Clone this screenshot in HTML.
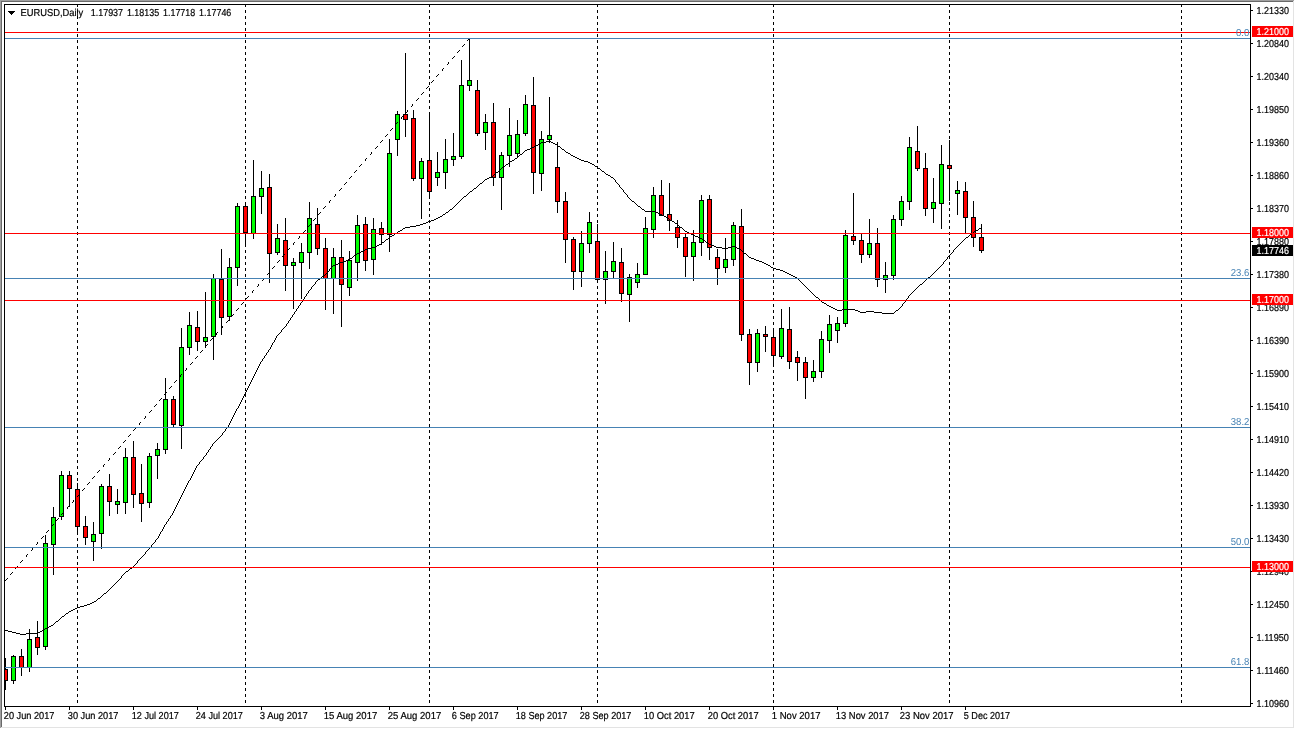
<!DOCTYPE html><html><head><meta charset="utf-8"><title>EURUSD,Daily</title><style>
html,body{margin:0;padding:0;background:#fff;}body{width:1295px;height:729px;overflow:hidden;position:relative;font-family:"Liberation Sans",sans-serif;}
svg{position:absolute;left:0;top:0;display:block}
text{font-family:"Liberation Sans",sans-serif;font-size:10.1px;stroke-width:0.2px;text-rendering:geometricPrecision;}
</style></head><body>
<svg width="1295" height="729" viewBox="0 0 1295 729">
<rect x="0" y="0" width="1295" height="729" fill="#fff"/>
<g shape-rendering="crispEdges">
<rect x="0" y="0" width="1294" height="1" fill="#a0a0a0"/>
<rect x="0" y="0" width="1" height="728" fill="#a0a0a0"/>
<rect x="1" y="1" width="1292" height="1" fill="#696969"/>
<rect x="1" y="1" width="1" height="726" fill="#696969"/>
<rect x="1293" y="1" width="1" height="727" fill="#e3e3e3"/>
<rect x="1" y="727" width="1293" height="1" fill="#e3e3e3"/>
</g>
<g shape-rendering="crispEdges" fill="#000">
<rect x="77" y="4" width="1" height="3"/>
<rect x="77" y="10" width="1" height="3"/>
<rect x="77" y="16" width="1" height="3"/>
<rect x="77" y="22" width="1" height="3"/>
<rect x="77" y="28" width="1" height="3"/>
<rect x="77" y="34" width="1" height="3"/>
<rect x="77" y="40" width="1" height="3"/>
<rect x="77" y="46" width="1" height="3"/>
<rect x="77" y="52" width="1" height="3"/>
<rect x="77" y="58" width="1" height="3"/>
<rect x="77" y="64" width="1" height="3"/>
<rect x="77" y="70" width="1" height="3"/>
<rect x="77" y="76" width="1" height="3"/>
<rect x="77" y="82" width="1" height="3"/>
<rect x="77" y="88" width="1" height="3"/>
<rect x="77" y="94" width="1" height="3"/>
<rect x="77" y="100" width="1" height="3"/>
<rect x="77" y="106" width="1" height="3"/>
<rect x="77" y="112" width="1" height="3"/>
<rect x="77" y="118" width="1" height="3"/>
<rect x="77" y="124" width="1" height="3"/>
<rect x="77" y="130" width="1" height="3"/>
<rect x="77" y="136" width="1" height="3"/>
<rect x="77" y="142" width="1" height="3"/>
<rect x="77" y="148" width="1" height="3"/>
<rect x="77" y="154" width="1" height="3"/>
<rect x="77" y="160" width="1" height="3"/>
<rect x="77" y="166" width="1" height="3"/>
<rect x="77" y="172" width="1" height="3"/>
<rect x="77" y="178" width="1" height="3"/>
<rect x="77" y="184" width="1" height="3"/>
<rect x="77" y="190" width="1" height="3"/>
<rect x="77" y="196" width="1" height="3"/>
<rect x="77" y="202" width="1" height="3"/>
<rect x="77" y="208" width="1" height="3"/>
<rect x="77" y="214" width="1" height="3"/>
<rect x="77" y="220" width="1" height="3"/>
<rect x="77" y="226" width="1" height="3"/>
<rect x="77" y="232" width="1" height="3"/>
<rect x="77" y="238" width="1" height="3"/>
<rect x="77" y="244" width="1" height="3"/>
<rect x="77" y="250" width="1" height="3"/>
<rect x="77" y="256" width="1" height="3"/>
<rect x="77" y="262" width="1" height="3"/>
<rect x="77" y="268" width="1" height="3"/>
<rect x="77" y="274" width="1" height="3"/>
<rect x="77" y="280" width="1" height="3"/>
<rect x="77" y="286" width="1" height="3"/>
<rect x="77" y="292" width="1" height="3"/>
<rect x="77" y="298" width="1" height="3"/>
<rect x="77" y="304" width="1" height="3"/>
<rect x="77" y="310" width="1" height="3"/>
<rect x="77" y="316" width="1" height="3"/>
<rect x="77" y="322" width="1" height="3"/>
<rect x="77" y="328" width="1" height="3"/>
<rect x="77" y="334" width="1" height="3"/>
<rect x="77" y="340" width="1" height="3"/>
<rect x="77" y="346" width="1" height="3"/>
<rect x="77" y="352" width="1" height="3"/>
<rect x="77" y="358" width="1" height="3"/>
<rect x="77" y="364" width="1" height="3"/>
<rect x="77" y="370" width="1" height="3"/>
<rect x="77" y="376" width="1" height="3"/>
<rect x="77" y="382" width="1" height="3"/>
<rect x="77" y="388" width="1" height="3"/>
<rect x="77" y="394" width="1" height="3"/>
<rect x="77" y="400" width="1" height="3"/>
<rect x="77" y="406" width="1" height="3"/>
<rect x="77" y="412" width="1" height="3"/>
<rect x="77" y="418" width="1" height="3"/>
<rect x="77" y="424" width="1" height="3"/>
<rect x="77" y="430" width="1" height="3"/>
<rect x="77" y="436" width="1" height="3"/>
<rect x="77" y="442" width="1" height="3"/>
<rect x="77" y="448" width="1" height="3"/>
<rect x="77" y="454" width="1" height="3"/>
<rect x="77" y="460" width="1" height="3"/>
<rect x="77" y="466" width="1" height="3"/>
<rect x="77" y="472" width="1" height="3"/>
<rect x="77" y="478" width="1" height="3"/>
<rect x="77" y="484" width="1" height="3"/>
<rect x="77" y="490" width="1" height="3"/>
<rect x="77" y="496" width="1" height="3"/>
<rect x="77" y="502" width="1" height="3"/>
<rect x="77" y="508" width="1" height="3"/>
<rect x="77" y="514" width="1" height="3"/>
<rect x="77" y="520" width="1" height="3"/>
<rect x="77" y="526" width="1" height="3"/>
<rect x="77" y="532" width="1" height="3"/>
<rect x="77" y="538" width="1" height="3"/>
<rect x="77" y="544" width="1" height="3"/>
<rect x="77" y="550" width="1" height="3"/>
<rect x="77" y="556" width="1" height="3"/>
<rect x="77" y="562" width="1" height="3"/>
<rect x="77" y="568" width="1" height="3"/>
<rect x="77" y="574" width="1" height="3"/>
<rect x="77" y="580" width="1" height="3"/>
<rect x="77" y="586" width="1" height="3"/>
<rect x="77" y="592" width="1" height="3"/>
<rect x="77" y="598" width="1" height="3"/>
<rect x="77" y="604" width="1" height="3"/>
<rect x="77" y="610" width="1" height="3"/>
<rect x="77" y="616" width="1" height="3"/>
<rect x="77" y="622" width="1" height="3"/>
<rect x="77" y="628" width="1" height="3"/>
<rect x="77" y="634" width="1" height="3"/>
<rect x="77" y="640" width="1" height="3"/>
<rect x="77" y="646" width="1" height="3"/>
<rect x="77" y="652" width="1" height="3"/>
<rect x="77" y="658" width="1" height="3"/>
<rect x="77" y="664" width="1" height="3"/>
<rect x="77" y="670" width="1" height="3"/>
<rect x="77" y="676" width="1" height="3"/>
<rect x="77" y="682" width="1" height="3"/>
<rect x="77" y="688" width="1" height="3"/>
<rect x="77" y="694" width="1" height="3"/>
<rect x="77" y="700" width="1" height="3"/>
<rect x="245" y="4" width="1" height="3"/>
<rect x="245" y="10" width="1" height="3"/>
<rect x="245" y="16" width="1" height="3"/>
<rect x="245" y="22" width="1" height="3"/>
<rect x="245" y="28" width="1" height="3"/>
<rect x="245" y="34" width="1" height="3"/>
<rect x="245" y="40" width="1" height="3"/>
<rect x="245" y="46" width="1" height="3"/>
<rect x="245" y="52" width="1" height="3"/>
<rect x="245" y="58" width="1" height="3"/>
<rect x="245" y="64" width="1" height="3"/>
<rect x="245" y="70" width="1" height="3"/>
<rect x="245" y="76" width="1" height="3"/>
<rect x="245" y="82" width="1" height="3"/>
<rect x="245" y="88" width="1" height="3"/>
<rect x="245" y="94" width="1" height="3"/>
<rect x="245" y="100" width="1" height="3"/>
<rect x="245" y="106" width="1" height="3"/>
<rect x="245" y="112" width="1" height="3"/>
<rect x="245" y="118" width="1" height="3"/>
<rect x="245" y="124" width="1" height="3"/>
<rect x="245" y="130" width="1" height="3"/>
<rect x="245" y="136" width="1" height="3"/>
<rect x="245" y="142" width="1" height="3"/>
<rect x="245" y="148" width="1" height="3"/>
<rect x="245" y="154" width="1" height="3"/>
<rect x="245" y="160" width="1" height="3"/>
<rect x="245" y="166" width="1" height="3"/>
<rect x="245" y="172" width="1" height="3"/>
<rect x="245" y="178" width="1" height="3"/>
<rect x="245" y="184" width="1" height="3"/>
<rect x="245" y="190" width="1" height="3"/>
<rect x="245" y="196" width="1" height="3"/>
<rect x="245" y="202" width="1" height="3"/>
<rect x="245" y="208" width="1" height="3"/>
<rect x="245" y="214" width="1" height="3"/>
<rect x="245" y="220" width="1" height="3"/>
<rect x="245" y="226" width="1" height="3"/>
<rect x="245" y="232" width="1" height="3"/>
<rect x="245" y="238" width="1" height="3"/>
<rect x="245" y="244" width="1" height="3"/>
<rect x="245" y="250" width="1" height="3"/>
<rect x="245" y="256" width="1" height="3"/>
<rect x="245" y="262" width="1" height="3"/>
<rect x="245" y="268" width="1" height="3"/>
<rect x="245" y="274" width="1" height="3"/>
<rect x="245" y="280" width="1" height="3"/>
<rect x="245" y="286" width="1" height="3"/>
<rect x="245" y="292" width="1" height="3"/>
<rect x="245" y="298" width="1" height="3"/>
<rect x="245" y="304" width="1" height="3"/>
<rect x="245" y="310" width="1" height="3"/>
<rect x="245" y="316" width="1" height="3"/>
<rect x="245" y="322" width="1" height="3"/>
<rect x="245" y="328" width="1" height="3"/>
<rect x="245" y="334" width="1" height="3"/>
<rect x="245" y="340" width="1" height="3"/>
<rect x="245" y="346" width="1" height="3"/>
<rect x="245" y="352" width="1" height="3"/>
<rect x="245" y="358" width="1" height="3"/>
<rect x="245" y="364" width="1" height="3"/>
<rect x="245" y="370" width="1" height="3"/>
<rect x="245" y="376" width="1" height="3"/>
<rect x="245" y="382" width="1" height="3"/>
<rect x="245" y="388" width="1" height="3"/>
<rect x="245" y="394" width="1" height="3"/>
<rect x="245" y="400" width="1" height="3"/>
<rect x="245" y="406" width="1" height="3"/>
<rect x="245" y="412" width="1" height="3"/>
<rect x="245" y="418" width="1" height="3"/>
<rect x="245" y="424" width="1" height="3"/>
<rect x="245" y="430" width="1" height="3"/>
<rect x="245" y="436" width="1" height="3"/>
<rect x="245" y="442" width="1" height="3"/>
<rect x="245" y="448" width="1" height="3"/>
<rect x="245" y="454" width="1" height="3"/>
<rect x="245" y="460" width="1" height="3"/>
<rect x="245" y="466" width="1" height="3"/>
<rect x="245" y="472" width="1" height="3"/>
<rect x="245" y="478" width="1" height="3"/>
<rect x="245" y="484" width="1" height="3"/>
<rect x="245" y="490" width="1" height="3"/>
<rect x="245" y="496" width="1" height="3"/>
<rect x="245" y="502" width="1" height="3"/>
<rect x="245" y="508" width="1" height="3"/>
<rect x="245" y="514" width="1" height="3"/>
<rect x="245" y="520" width="1" height="3"/>
<rect x="245" y="526" width="1" height="3"/>
<rect x="245" y="532" width="1" height="3"/>
<rect x="245" y="538" width="1" height="3"/>
<rect x="245" y="544" width="1" height="3"/>
<rect x="245" y="550" width="1" height="3"/>
<rect x="245" y="556" width="1" height="3"/>
<rect x="245" y="562" width="1" height="3"/>
<rect x="245" y="568" width="1" height="3"/>
<rect x="245" y="574" width="1" height="3"/>
<rect x="245" y="580" width="1" height="3"/>
<rect x="245" y="586" width="1" height="3"/>
<rect x="245" y="592" width="1" height="3"/>
<rect x="245" y="598" width="1" height="3"/>
<rect x="245" y="604" width="1" height="3"/>
<rect x="245" y="610" width="1" height="3"/>
<rect x="245" y="616" width="1" height="3"/>
<rect x="245" y="622" width="1" height="3"/>
<rect x="245" y="628" width="1" height="3"/>
<rect x="245" y="634" width="1" height="3"/>
<rect x="245" y="640" width="1" height="3"/>
<rect x="245" y="646" width="1" height="3"/>
<rect x="245" y="652" width="1" height="3"/>
<rect x="245" y="658" width="1" height="3"/>
<rect x="245" y="664" width="1" height="3"/>
<rect x="245" y="670" width="1" height="3"/>
<rect x="245" y="676" width="1" height="3"/>
<rect x="245" y="682" width="1" height="3"/>
<rect x="245" y="688" width="1" height="3"/>
<rect x="245" y="694" width="1" height="3"/>
<rect x="245" y="700" width="1" height="3"/>
<rect x="429" y="4" width="1" height="3"/>
<rect x="429" y="10" width="1" height="3"/>
<rect x="429" y="16" width="1" height="3"/>
<rect x="429" y="22" width="1" height="3"/>
<rect x="429" y="28" width="1" height="3"/>
<rect x="429" y="34" width="1" height="3"/>
<rect x="429" y="40" width="1" height="3"/>
<rect x="429" y="46" width="1" height="3"/>
<rect x="429" y="52" width="1" height="3"/>
<rect x="429" y="58" width="1" height="3"/>
<rect x="429" y="64" width="1" height="3"/>
<rect x="429" y="70" width="1" height="3"/>
<rect x="429" y="76" width="1" height="3"/>
<rect x="429" y="82" width="1" height="3"/>
<rect x="429" y="88" width="1" height="3"/>
<rect x="429" y="94" width="1" height="3"/>
<rect x="429" y="100" width="1" height="3"/>
<rect x="429" y="106" width="1" height="3"/>
<rect x="429" y="112" width="1" height="3"/>
<rect x="429" y="118" width="1" height="3"/>
<rect x="429" y="124" width="1" height="3"/>
<rect x="429" y="130" width="1" height="3"/>
<rect x="429" y="136" width="1" height="3"/>
<rect x="429" y="142" width="1" height="3"/>
<rect x="429" y="148" width="1" height="3"/>
<rect x="429" y="154" width="1" height="3"/>
<rect x="429" y="160" width="1" height="3"/>
<rect x="429" y="166" width="1" height="3"/>
<rect x="429" y="172" width="1" height="3"/>
<rect x="429" y="178" width="1" height="3"/>
<rect x="429" y="184" width="1" height="3"/>
<rect x="429" y="190" width="1" height="3"/>
<rect x="429" y="196" width="1" height="3"/>
<rect x="429" y="202" width="1" height="3"/>
<rect x="429" y="208" width="1" height="3"/>
<rect x="429" y="214" width="1" height="3"/>
<rect x="429" y="220" width="1" height="3"/>
<rect x="429" y="226" width="1" height="3"/>
<rect x="429" y="232" width="1" height="3"/>
<rect x="429" y="238" width="1" height="3"/>
<rect x="429" y="244" width="1" height="3"/>
<rect x="429" y="250" width="1" height="3"/>
<rect x="429" y="256" width="1" height="3"/>
<rect x="429" y="262" width="1" height="3"/>
<rect x="429" y="268" width="1" height="3"/>
<rect x="429" y="274" width="1" height="3"/>
<rect x="429" y="280" width="1" height="3"/>
<rect x="429" y="286" width="1" height="3"/>
<rect x="429" y="292" width="1" height="3"/>
<rect x="429" y="298" width="1" height="3"/>
<rect x="429" y="304" width="1" height="3"/>
<rect x="429" y="310" width="1" height="3"/>
<rect x="429" y="316" width="1" height="3"/>
<rect x="429" y="322" width="1" height="3"/>
<rect x="429" y="328" width="1" height="3"/>
<rect x="429" y="334" width="1" height="3"/>
<rect x="429" y="340" width="1" height="3"/>
<rect x="429" y="346" width="1" height="3"/>
<rect x="429" y="352" width="1" height="3"/>
<rect x="429" y="358" width="1" height="3"/>
<rect x="429" y="364" width="1" height="3"/>
<rect x="429" y="370" width="1" height="3"/>
<rect x="429" y="376" width="1" height="3"/>
<rect x="429" y="382" width="1" height="3"/>
<rect x="429" y="388" width="1" height="3"/>
<rect x="429" y="394" width="1" height="3"/>
<rect x="429" y="400" width="1" height="3"/>
<rect x="429" y="406" width="1" height="3"/>
<rect x="429" y="412" width="1" height="3"/>
<rect x="429" y="418" width="1" height="3"/>
<rect x="429" y="424" width="1" height="3"/>
<rect x="429" y="430" width="1" height="3"/>
<rect x="429" y="436" width="1" height="3"/>
<rect x="429" y="442" width="1" height="3"/>
<rect x="429" y="448" width="1" height="3"/>
<rect x="429" y="454" width="1" height="3"/>
<rect x="429" y="460" width="1" height="3"/>
<rect x="429" y="466" width="1" height="3"/>
<rect x="429" y="472" width="1" height="3"/>
<rect x="429" y="478" width="1" height="3"/>
<rect x="429" y="484" width="1" height="3"/>
<rect x="429" y="490" width="1" height="3"/>
<rect x="429" y="496" width="1" height="3"/>
<rect x="429" y="502" width="1" height="3"/>
<rect x="429" y="508" width="1" height="3"/>
<rect x="429" y="514" width="1" height="3"/>
<rect x="429" y="520" width="1" height="3"/>
<rect x="429" y="526" width="1" height="3"/>
<rect x="429" y="532" width="1" height="3"/>
<rect x="429" y="538" width="1" height="3"/>
<rect x="429" y="544" width="1" height="3"/>
<rect x="429" y="550" width="1" height="3"/>
<rect x="429" y="556" width="1" height="3"/>
<rect x="429" y="562" width="1" height="3"/>
<rect x="429" y="568" width="1" height="3"/>
<rect x="429" y="574" width="1" height="3"/>
<rect x="429" y="580" width="1" height="3"/>
<rect x="429" y="586" width="1" height="3"/>
<rect x="429" y="592" width="1" height="3"/>
<rect x="429" y="598" width="1" height="3"/>
<rect x="429" y="604" width="1" height="3"/>
<rect x="429" y="610" width="1" height="3"/>
<rect x="429" y="616" width="1" height="3"/>
<rect x="429" y="622" width="1" height="3"/>
<rect x="429" y="628" width="1" height="3"/>
<rect x="429" y="634" width="1" height="3"/>
<rect x="429" y="640" width="1" height="3"/>
<rect x="429" y="646" width="1" height="3"/>
<rect x="429" y="652" width="1" height="3"/>
<rect x="429" y="658" width="1" height="3"/>
<rect x="429" y="664" width="1" height="3"/>
<rect x="429" y="670" width="1" height="3"/>
<rect x="429" y="676" width="1" height="3"/>
<rect x="429" y="682" width="1" height="3"/>
<rect x="429" y="688" width="1" height="3"/>
<rect x="429" y="694" width="1" height="3"/>
<rect x="429" y="700" width="1" height="3"/>
<rect x="597" y="4" width="1" height="3"/>
<rect x="597" y="10" width="1" height="3"/>
<rect x="597" y="16" width="1" height="3"/>
<rect x="597" y="22" width="1" height="3"/>
<rect x="597" y="28" width="1" height="3"/>
<rect x="597" y="34" width="1" height="3"/>
<rect x="597" y="40" width="1" height="3"/>
<rect x="597" y="46" width="1" height="3"/>
<rect x="597" y="52" width="1" height="3"/>
<rect x="597" y="58" width="1" height="3"/>
<rect x="597" y="64" width="1" height="3"/>
<rect x="597" y="70" width="1" height="3"/>
<rect x="597" y="76" width="1" height="3"/>
<rect x="597" y="82" width="1" height="3"/>
<rect x="597" y="88" width="1" height="3"/>
<rect x="597" y="94" width="1" height="3"/>
<rect x="597" y="100" width="1" height="3"/>
<rect x="597" y="106" width="1" height="3"/>
<rect x="597" y="112" width="1" height="3"/>
<rect x="597" y="118" width="1" height="3"/>
<rect x="597" y="124" width="1" height="3"/>
<rect x="597" y="130" width="1" height="3"/>
<rect x="597" y="136" width="1" height="3"/>
<rect x="597" y="142" width="1" height="3"/>
<rect x="597" y="148" width="1" height="3"/>
<rect x="597" y="154" width="1" height="3"/>
<rect x="597" y="160" width="1" height="3"/>
<rect x="597" y="166" width="1" height="3"/>
<rect x="597" y="172" width="1" height="3"/>
<rect x="597" y="178" width="1" height="3"/>
<rect x="597" y="184" width="1" height="3"/>
<rect x="597" y="190" width="1" height="3"/>
<rect x="597" y="196" width="1" height="3"/>
<rect x="597" y="202" width="1" height="3"/>
<rect x="597" y="208" width="1" height="3"/>
<rect x="597" y="214" width="1" height="3"/>
<rect x="597" y="220" width="1" height="3"/>
<rect x="597" y="226" width="1" height="3"/>
<rect x="597" y="232" width="1" height="3"/>
<rect x="597" y="238" width="1" height="3"/>
<rect x="597" y="244" width="1" height="3"/>
<rect x="597" y="250" width="1" height="3"/>
<rect x="597" y="256" width="1" height="3"/>
<rect x="597" y="262" width="1" height="3"/>
<rect x="597" y="268" width="1" height="3"/>
<rect x="597" y="274" width="1" height="3"/>
<rect x="597" y="280" width="1" height="3"/>
<rect x="597" y="286" width="1" height="3"/>
<rect x="597" y="292" width="1" height="3"/>
<rect x="597" y="298" width="1" height="3"/>
<rect x="597" y="304" width="1" height="3"/>
<rect x="597" y="310" width="1" height="3"/>
<rect x="597" y="316" width="1" height="3"/>
<rect x="597" y="322" width="1" height="3"/>
<rect x="597" y="328" width="1" height="3"/>
<rect x="597" y="334" width="1" height="3"/>
<rect x="597" y="340" width="1" height="3"/>
<rect x="597" y="346" width="1" height="3"/>
<rect x="597" y="352" width="1" height="3"/>
<rect x="597" y="358" width="1" height="3"/>
<rect x="597" y="364" width="1" height="3"/>
<rect x="597" y="370" width="1" height="3"/>
<rect x="597" y="376" width="1" height="3"/>
<rect x="597" y="382" width="1" height="3"/>
<rect x="597" y="388" width="1" height="3"/>
<rect x="597" y="394" width="1" height="3"/>
<rect x="597" y="400" width="1" height="3"/>
<rect x="597" y="406" width="1" height="3"/>
<rect x="597" y="412" width="1" height="3"/>
<rect x="597" y="418" width="1" height="3"/>
<rect x="597" y="424" width="1" height="3"/>
<rect x="597" y="430" width="1" height="3"/>
<rect x="597" y="436" width="1" height="3"/>
<rect x="597" y="442" width="1" height="3"/>
<rect x="597" y="448" width="1" height="3"/>
<rect x="597" y="454" width="1" height="3"/>
<rect x="597" y="460" width="1" height="3"/>
<rect x="597" y="466" width="1" height="3"/>
<rect x="597" y="472" width="1" height="3"/>
<rect x="597" y="478" width="1" height="3"/>
<rect x="597" y="484" width="1" height="3"/>
<rect x="597" y="490" width="1" height="3"/>
<rect x="597" y="496" width="1" height="3"/>
<rect x="597" y="502" width="1" height="3"/>
<rect x="597" y="508" width="1" height="3"/>
<rect x="597" y="514" width="1" height="3"/>
<rect x="597" y="520" width="1" height="3"/>
<rect x="597" y="526" width="1" height="3"/>
<rect x="597" y="532" width="1" height="3"/>
<rect x="597" y="538" width="1" height="3"/>
<rect x="597" y="544" width="1" height="3"/>
<rect x="597" y="550" width="1" height="3"/>
<rect x="597" y="556" width="1" height="3"/>
<rect x="597" y="562" width="1" height="3"/>
<rect x="597" y="568" width="1" height="3"/>
<rect x="597" y="574" width="1" height="3"/>
<rect x="597" y="580" width="1" height="3"/>
<rect x="597" y="586" width="1" height="3"/>
<rect x="597" y="592" width="1" height="3"/>
<rect x="597" y="598" width="1" height="3"/>
<rect x="597" y="604" width="1" height="3"/>
<rect x="597" y="610" width="1" height="3"/>
<rect x="597" y="616" width="1" height="3"/>
<rect x="597" y="622" width="1" height="3"/>
<rect x="597" y="628" width="1" height="3"/>
<rect x="597" y="634" width="1" height="3"/>
<rect x="597" y="640" width="1" height="3"/>
<rect x="597" y="646" width="1" height="3"/>
<rect x="597" y="652" width="1" height="3"/>
<rect x="597" y="658" width="1" height="3"/>
<rect x="597" y="664" width="1" height="3"/>
<rect x="597" y="670" width="1" height="3"/>
<rect x="597" y="676" width="1" height="3"/>
<rect x="597" y="682" width="1" height="3"/>
<rect x="597" y="688" width="1" height="3"/>
<rect x="597" y="694" width="1" height="3"/>
<rect x="597" y="700" width="1" height="3"/>
<rect x="773" y="4" width="1" height="3"/>
<rect x="773" y="10" width="1" height="3"/>
<rect x="773" y="16" width="1" height="3"/>
<rect x="773" y="22" width="1" height="3"/>
<rect x="773" y="28" width="1" height="3"/>
<rect x="773" y="34" width="1" height="3"/>
<rect x="773" y="40" width="1" height="3"/>
<rect x="773" y="46" width="1" height="3"/>
<rect x="773" y="52" width="1" height="3"/>
<rect x="773" y="58" width="1" height="3"/>
<rect x="773" y="64" width="1" height="3"/>
<rect x="773" y="70" width="1" height="3"/>
<rect x="773" y="76" width="1" height="3"/>
<rect x="773" y="82" width="1" height="3"/>
<rect x="773" y="88" width="1" height="3"/>
<rect x="773" y="94" width="1" height="3"/>
<rect x="773" y="100" width="1" height="3"/>
<rect x="773" y="106" width="1" height="3"/>
<rect x="773" y="112" width="1" height="3"/>
<rect x="773" y="118" width="1" height="3"/>
<rect x="773" y="124" width="1" height="3"/>
<rect x="773" y="130" width="1" height="3"/>
<rect x="773" y="136" width="1" height="3"/>
<rect x="773" y="142" width="1" height="3"/>
<rect x="773" y="148" width="1" height="3"/>
<rect x="773" y="154" width="1" height="3"/>
<rect x="773" y="160" width="1" height="3"/>
<rect x="773" y="166" width="1" height="3"/>
<rect x="773" y="172" width="1" height="3"/>
<rect x="773" y="178" width="1" height="3"/>
<rect x="773" y="184" width="1" height="3"/>
<rect x="773" y="190" width="1" height="3"/>
<rect x="773" y="196" width="1" height="3"/>
<rect x="773" y="202" width="1" height="3"/>
<rect x="773" y="208" width="1" height="3"/>
<rect x="773" y="214" width="1" height="3"/>
<rect x="773" y="220" width="1" height="3"/>
<rect x="773" y="226" width="1" height="3"/>
<rect x="773" y="232" width="1" height="3"/>
<rect x="773" y="238" width="1" height="3"/>
<rect x="773" y="244" width="1" height="3"/>
<rect x="773" y="250" width="1" height="3"/>
<rect x="773" y="256" width="1" height="3"/>
<rect x="773" y="262" width="1" height="3"/>
<rect x="773" y="268" width="1" height="3"/>
<rect x="773" y="274" width="1" height="3"/>
<rect x="773" y="280" width="1" height="3"/>
<rect x="773" y="286" width="1" height="3"/>
<rect x="773" y="292" width="1" height="3"/>
<rect x="773" y="298" width="1" height="3"/>
<rect x="773" y="304" width="1" height="3"/>
<rect x="773" y="310" width="1" height="3"/>
<rect x="773" y="316" width="1" height="3"/>
<rect x="773" y="322" width="1" height="3"/>
<rect x="773" y="328" width="1" height="3"/>
<rect x="773" y="334" width="1" height="3"/>
<rect x="773" y="340" width="1" height="3"/>
<rect x="773" y="346" width="1" height="3"/>
<rect x="773" y="352" width="1" height="3"/>
<rect x="773" y="358" width="1" height="3"/>
<rect x="773" y="364" width="1" height="3"/>
<rect x="773" y="370" width="1" height="3"/>
<rect x="773" y="376" width="1" height="3"/>
<rect x="773" y="382" width="1" height="3"/>
<rect x="773" y="388" width="1" height="3"/>
<rect x="773" y="394" width="1" height="3"/>
<rect x="773" y="400" width="1" height="3"/>
<rect x="773" y="406" width="1" height="3"/>
<rect x="773" y="412" width="1" height="3"/>
<rect x="773" y="418" width="1" height="3"/>
<rect x="773" y="424" width="1" height="3"/>
<rect x="773" y="430" width="1" height="3"/>
<rect x="773" y="436" width="1" height="3"/>
<rect x="773" y="442" width="1" height="3"/>
<rect x="773" y="448" width="1" height="3"/>
<rect x="773" y="454" width="1" height="3"/>
<rect x="773" y="460" width="1" height="3"/>
<rect x="773" y="466" width="1" height="3"/>
<rect x="773" y="472" width="1" height="3"/>
<rect x="773" y="478" width="1" height="3"/>
<rect x="773" y="484" width="1" height="3"/>
<rect x="773" y="490" width="1" height="3"/>
<rect x="773" y="496" width="1" height="3"/>
<rect x="773" y="502" width="1" height="3"/>
<rect x="773" y="508" width="1" height="3"/>
<rect x="773" y="514" width="1" height="3"/>
<rect x="773" y="520" width="1" height="3"/>
<rect x="773" y="526" width="1" height="3"/>
<rect x="773" y="532" width="1" height="3"/>
<rect x="773" y="538" width="1" height="3"/>
<rect x="773" y="544" width="1" height="3"/>
<rect x="773" y="550" width="1" height="3"/>
<rect x="773" y="556" width="1" height="3"/>
<rect x="773" y="562" width="1" height="3"/>
<rect x="773" y="568" width="1" height="3"/>
<rect x="773" y="574" width="1" height="3"/>
<rect x="773" y="580" width="1" height="3"/>
<rect x="773" y="586" width="1" height="3"/>
<rect x="773" y="592" width="1" height="3"/>
<rect x="773" y="598" width="1" height="3"/>
<rect x="773" y="604" width="1" height="3"/>
<rect x="773" y="610" width="1" height="3"/>
<rect x="773" y="616" width="1" height="3"/>
<rect x="773" y="622" width="1" height="3"/>
<rect x="773" y="628" width="1" height="3"/>
<rect x="773" y="634" width="1" height="3"/>
<rect x="773" y="640" width="1" height="3"/>
<rect x="773" y="646" width="1" height="3"/>
<rect x="773" y="652" width="1" height="3"/>
<rect x="773" y="658" width="1" height="3"/>
<rect x="773" y="664" width="1" height="3"/>
<rect x="773" y="670" width="1" height="3"/>
<rect x="773" y="676" width="1" height="3"/>
<rect x="773" y="682" width="1" height="3"/>
<rect x="773" y="688" width="1" height="3"/>
<rect x="773" y="694" width="1" height="3"/>
<rect x="773" y="700" width="1" height="3"/>
<rect x="949" y="4" width="1" height="3"/>
<rect x="949" y="10" width="1" height="3"/>
<rect x="949" y="16" width="1" height="3"/>
<rect x="949" y="22" width="1" height="3"/>
<rect x="949" y="28" width="1" height="3"/>
<rect x="949" y="34" width="1" height="3"/>
<rect x="949" y="40" width="1" height="3"/>
<rect x="949" y="46" width="1" height="3"/>
<rect x="949" y="52" width="1" height="3"/>
<rect x="949" y="58" width="1" height="3"/>
<rect x="949" y="64" width="1" height="3"/>
<rect x="949" y="70" width="1" height="3"/>
<rect x="949" y="76" width="1" height="3"/>
<rect x="949" y="82" width="1" height="3"/>
<rect x="949" y="88" width="1" height="3"/>
<rect x="949" y="94" width="1" height="3"/>
<rect x="949" y="100" width="1" height="3"/>
<rect x="949" y="106" width="1" height="3"/>
<rect x="949" y="112" width="1" height="3"/>
<rect x="949" y="118" width="1" height="3"/>
<rect x="949" y="124" width="1" height="3"/>
<rect x="949" y="130" width="1" height="3"/>
<rect x="949" y="136" width="1" height="3"/>
<rect x="949" y="142" width="1" height="3"/>
<rect x="949" y="148" width="1" height="3"/>
<rect x="949" y="154" width="1" height="3"/>
<rect x="949" y="160" width="1" height="3"/>
<rect x="949" y="166" width="1" height="3"/>
<rect x="949" y="172" width="1" height="3"/>
<rect x="949" y="178" width="1" height="3"/>
<rect x="949" y="184" width="1" height="3"/>
<rect x="949" y="190" width="1" height="3"/>
<rect x="949" y="196" width="1" height="3"/>
<rect x="949" y="202" width="1" height="3"/>
<rect x="949" y="208" width="1" height="3"/>
<rect x="949" y="214" width="1" height="3"/>
<rect x="949" y="220" width="1" height="3"/>
<rect x="949" y="226" width="1" height="3"/>
<rect x="949" y="232" width="1" height="3"/>
<rect x="949" y="238" width="1" height="3"/>
<rect x="949" y="244" width="1" height="3"/>
<rect x="949" y="250" width="1" height="3"/>
<rect x="949" y="256" width="1" height="3"/>
<rect x="949" y="262" width="1" height="3"/>
<rect x="949" y="268" width="1" height="3"/>
<rect x="949" y="274" width="1" height="3"/>
<rect x="949" y="280" width="1" height="3"/>
<rect x="949" y="286" width="1" height="3"/>
<rect x="949" y="292" width="1" height="3"/>
<rect x="949" y="298" width="1" height="3"/>
<rect x="949" y="304" width="1" height="3"/>
<rect x="949" y="310" width="1" height="3"/>
<rect x="949" y="316" width="1" height="3"/>
<rect x="949" y="322" width="1" height="3"/>
<rect x="949" y="328" width="1" height="3"/>
<rect x="949" y="334" width="1" height="3"/>
<rect x="949" y="340" width="1" height="3"/>
<rect x="949" y="346" width="1" height="3"/>
<rect x="949" y="352" width="1" height="3"/>
<rect x="949" y="358" width="1" height="3"/>
<rect x="949" y="364" width="1" height="3"/>
<rect x="949" y="370" width="1" height="3"/>
<rect x="949" y="376" width="1" height="3"/>
<rect x="949" y="382" width="1" height="3"/>
<rect x="949" y="388" width="1" height="3"/>
<rect x="949" y="394" width="1" height="3"/>
<rect x="949" y="400" width="1" height="3"/>
<rect x="949" y="406" width="1" height="3"/>
<rect x="949" y="412" width="1" height="3"/>
<rect x="949" y="418" width="1" height="3"/>
<rect x="949" y="424" width="1" height="3"/>
<rect x="949" y="430" width="1" height="3"/>
<rect x="949" y="436" width="1" height="3"/>
<rect x="949" y="442" width="1" height="3"/>
<rect x="949" y="448" width="1" height="3"/>
<rect x="949" y="454" width="1" height="3"/>
<rect x="949" y="460" width="1" height="3"/>
<rect x="949" y="466" width="1" height="3"/>
<rect x="949" y="472" width="1" height="3"/>
<rect x="949" y="478" width="1" height="3"/>
<rect x="949" y="484" width="1" height="3"/>
<rect x="949" y="490" width="1" height="3"/>
<rect x="949" y="496" width="1" height="3"/>
<rect x="949" y="502" width="1" height="3"/>
<rect x="949" y="508" width="1" height="3"/>
<rect x="949" y="514" width="1" height="3"/>
<rect x="949" y="520" width="1" height="3"/>
<rect x="949" y="526" width="1" height="3"/>
<rect x="949" y="532" width="1" height="3"/>
<rect x="949" y="538" width="1" height="3"/>
<rect x="949" y="544" width="1" height="3"/>
<rect x="949" y="550" width="1" height="3"/>
<rect x="949" y="556" width="1" height="3"/>
<rect x="949" y="562" width="1" height="3"/>
<rect x="949" y="568" width="1" height="3"/>
<rect x="949" y="574" width="1" height="3"/>
<rect x="949" y="580" width="1" height="3"/>
<rect x="949" y="586" width="1" height="3"/>
<rect x="949" y="592" width="1" height="3"/>
<rect x="949" y="598" width="1" height="3"/>
<rect x="949" y="604" width="1" height="3"/>
<rect x="949" y="610" width="1" height="3"/>
<rect x="949" y="616" width="1" height="3"/>
<rect x="949" y="622" width="1" height="3"/>
<rect x="949" y="628" width="1" height="3"/>
<rect x="949" y="634" width="1" height="3"/>
<rect x="949" y="640" width="1" height="3"/>
<rect x="949" y="646" width="1" height="3"/>
<rect x="949" y="652" width="1" height="3"/>
<rect x="949" y="658" width="1" height="3"/>
<rect x="949" y="664" width="1" height="3"/>
<rect x="949" y="670" width="1" height="3"/>
<rect x="949" y="676" width="1" height="3"/>
<rect x="949" y="682" width="1" height="3"/>
<rect x="949" y="688" width="1" height="3"/>
<rect x="949" y="694" width="1" height="3"/>
<rect x="949" y="700" width="1" height="3"/>
<rect x="1181" y="4" width="1" height="3"/>
<rect x="1181" y="10" width="1" height="3"/>
<rect x="1181" y="16" width="1" height="3"/>
<rect x="1181" y="22" width="1" height="3"/>
<rect x="1181" y="28" width="1" height="3"/>
<rect x="1181" y="34" width="1" height="3"/>
<rect x="1181" y="40" width="1" height="3"/>
<rect x="1181" y="46" width="1" height="3"/>
<rect x="1181" y="52" width="1" height="3"/>
<rect x="1181" y="58" width="1" height="3"/>
<rect x="1181" y="64" width="1" height="3"/>
<rect x="1181" y="70" width="1" height="3"/>
<rect x="1181" y="76" width="1" height="3"/>
<rect x="1181" y="82" width="1" height="3"/>
<rect x="1181" y="88" width="1" height="3"/>
<rect x="1181" y="94" width="1" height="3"/>
<rect x="1181" y="100" width="1" height="3"/>
<rect x="1181" y="106" width="1" height="3"/>
<rect x="1181" y="112" width="1" height="3"/>
<rect x="1181" y="118" width="1" height="3"/>
<rect x="1181" y="124" width="1" height="3"/>
<rect x="1181" y="130" width="1" height="3"/>
<rect x="1181" y="136" width="1" height="3"/>
<rect x="1181" y="142" width="1" height="3"/>
<rect x="1181" y="148" width="1" height="3"/>
<rect x="1181" y="154" width="1" height="3"/>
<rect x="1181" y="160" width="1" height="3"/>
<rect x="1181" y="166" width="1" height="3"/>
<rect x="1181" y="172" width="1" height="3"/>
<rect x="1181" y="178" width="1" height="3"/>
<rect x="1181" y="184" width="1" height="3"/>
<rect x="1181" y="190" width="1" height="3"/>
<rect x="1181" y="196" width="1" height="3"/>
<rect x="1181" y="202" width="1" height="3"/>
<rect x="1181" y="208" width="1" height="3"/>
<rect x="1181" y="214" width="1" height="3"/>
<rect x="1181" y="220" width="1" height="3"/>
<rect x="1181" y="226" width="1" height="3"/>
<rect x="1181" y="232" width="1" height="3"/>
<rect x="1181" y="238" width="1" height="3"/>
<rect x="1181" y="244" width="1" height="3"/>
<rect x="1181" y="250" width="1" height="3"/>
<rect x="1181" y="256" width="1" height="3"/>
<rect x="1181" y="262" width="1" height="3"/>
<rect x="1181" y="268" width="1" height="3"/>
<rect x="1181" y="274" width="1" height="3"/>
<rect x="1181" y="280" width="1" height="3"/>
<rect x="1181" y="286" width="1" height="3"/>
<rect x="1181" y="292" width="1" height="3"/>
<rect x="1181" y="298" width="1" height="3"/>
<rect x="1181" y="304" width="1" height="3"/>
<rect x="1181" y="310" width="1" height="3"/>
<rect x="1181" y="316" width="1" height="3"/>
<rect x="1181" y="322" width="1" height="3"/>
<rect x="1181" y="328" width="1" height="3"/>
<rect x="1181" y="334" width="1" height="3"/>
<rect x="1181" y="340" width="1" height="3"/>
<rect x="1181" y="346" width="1" height="3"/>
<rect x="1181" y="352" width="1" height="3"/>
<rect x="1181" y="358" width="1" height="3"/>
<rect x="1181" y="364" width="1" height="3"/>
<rect x="1181" y="370" width="1" height="3"/>
<rect x="1181" y="376" width="1" height="3"/>
<rect x="1181" y="382" width="1" height="3"/>
<rect x="1181" y="388" width="1" height="3"/>
<rect x="1181" y="394" width="1" height="3"/>
<rect x="1181" y="400" width="1" height="3"/>
<rect x="1181" y="406" width="1" height="3"/>
<rect x="1181" y="412" width="1" height="3"/>
<rect x="1181" y="418" width="1" height="3"/>
<rect x="1181" y="424" width="1" height="3"/>
<rect x="1181" y="430" width="1" height="3"/>
<rect x="1181" y="436" width="1" height="3"/>
<rect x="1181" y="442" width="1" height="3"/>
<rect x="1181" y="448" width="1" height="3"/>
<rect x="1181" y="454" width="1" height="3"/>
<rect x="1181" y="460" width="1" height="3"/>
<rect x="1181" y="466" width="1" height="3"/>
<rect x="1181" y="472" width="1" height="3"/>
<rect x="1181" y="478" width="1" height="3"/>
<rect x="1181" y="484" width="1" height="3"/>
<rect x="1181" y="490" width="1" height="3"/>
<rect x="1181" y="496" width="1" height="3"/>
<rect x="1181" y="502" width="1" height="3"/>
<rect x="1181" y="508" width="1" height="3"/>
<rect x="1181" y="514" width="1" height="3"/>
<rect x="1181" y="520" width="1" height="3"/>
<rect x="1181" y="526" width="1" height="3"/>
<rect x="1181" y="532" width="1" height="3"/>
<rect x="1181" y="538" width="1" height="3"/>
<rect x="1181" y="544" width="1" height="3"/>
<rect x="1181" y="550" width="1" height="3"/>
<rect x="1181" y="556" width="1" height="3"/>
<rect x="1181" y="562" width="1" height="3"/>
<rect x="1181" y="568" width="1" height="3"/>
<rect x="1181" y="574" width="1" height="3"/>
<rect x="1181" y="580" width="1" height="3"/>
<rect x="1181" y="586" width="1" height="3"/>
<rect x="1181" y="592" width="1" height="3"/>
<rect x="1181" y="598" width="1" height="3"/>
<rect x="1181" y="604" width="1" height="3"/>
<rect x="1181" y="610" width="1" height="3"/>
<rect x="1181" y="616" width="1" height="3"/>
<rect x="1181" y="622" width="1" height="3"/>
<rect x="1181" y="628" width="1" height="3"/>
<rect x="1181" y="634" width="1" height="3"/>
<rect x="1181" y="640" width="1" height="3"/>
<rect x="1181" y="646" width="1" height="3"/>
<rect x="1181" y="652" width="1" height="3"/>
<rect x="1181" y="658" width="1" height="3"/>
<rect x="1181" y="664" width="1" height="3"/>
<rect x="1181" y="670" width="1" height="3"/>
<rect x="1181" y="676" width="1" height="3"/>
<rect x="1181" y="682" width="1" height="3"/>
<rect x="1181" y="688" width="1" height="3"/>
<rect x="1181" y="694" width="1" height="3"/>
<rect x="1181" y="700" width="1" height="3"/>
</g>
<g shape-rendering="crispEdges">
<clipPath id="cp"><rect x="5" y="5" width="1245" height="701"/></clipPath>
</g>
<g clip-path="url(#cp)">
<g shape-rendering="crispEdges">
<rect x="5" y="658" width="1" height="32" fill="#000"/>
<rect x="3" y="669" width="5" height="12" fill="#000"/>
<rect x="4" y="670" width="3" height="10" fill="#ff0000"/>
<rect x="13" y="655" width="1" height="29" fill="#000"/>
<rect x="11" y="656" width="5" height="25" fill="#000"/>
<rect x="12" y="657" width="3" height="23" fill="#00ff00"/>
<rect x="21" y="649" width="1" height="27" fill="#000"/>
<rect x="19" y="656" width="5" height="12" fill="#000"/>
<rect x="20" y="657" width="3" height="10" fill="#ff0000"/>
<rect x="29" y="629" width="1" height="43" fill="#000"/>
<rect x="27" y="639" width="5" height="29" fill="#000"/>
<rect x="28" y="640" width="3" height="27" fill="#00ff00"/>
<rect x="37" y="621" width="1" height="34" fill="#000"/>
<rect x="35" y="637" width="5" height="11" fill="#000"/>
<rect x="36" y="638" width="3" height="9" fill="#ff0000"/>
<rect x="45" y="535" width="1" height="115" fill="#000"/>
<rect x="43" y="543" width="5" height="104" fill="#000"/>
<rect x="44" y="544" width="3" height="102" fill="#00ff00"/>
<rect x="53" y="507" width="1" height="68" fill="#000"/>
<rect x="51" y="517" width="5" height="28" fill="#000"/>
<rect x="52" y="518" width="3" height="26" fill="#00ff00"/>
<rect x="61" y="471" width="1" height="49" fill="#000"/>
<rect x="59" y="475" width="5" height="42" fill="#000"/>
<rect x="60" y="476" width="3" height="40" fill="#00ff00"/>
<rect x="69" y="471" width="1" height="36" fill="#000"/>
<rect x="67" y="475" width="5" height="14" fill="#000"/>
<rect x="68" y="476" width="3" height="12" fill="#ff0000"/>
<rect x="77" y="483" width="1" height="51" fill="#000"/>
<rect x="75" y="489" width="5" height="38" fill="#000"/>
<rect x="76" y="490" width="3" height="36" fill="#ff0000"/>
<rect x="85" y="516" width="1" height="29" fill="#000"/>
<rect x="83" y="526" width="5" height="12" fill="#000"/>
<rect x="84" y="527" width="3" height="10" fill="#ff0000"/>
<rect x="93" y="522" width="1" height="39" fill="#000"/>
<rect x="91" y="534" width="5" height="8" fill="#000"/>
<rect x="92" y="535" width="3" height="6" fill="#00ff00"/>
<rect x="101" y="484" width="1" height="65" fill="#000"/>
<rect x="99" y="486" width="5" height="48" fill="#000"/>
<rect x="100" y="487" width="3" height="46" fill="#00ff00"/>
<rect x="109" y="474" width="1" height="42" fill="#000"/>
<rect x="107" y="486" width="5" height="16" fill="#000"/>
<rect x="108" y="487" width="3" height="14" fill="#ff0000"/>
<rect x="117" y="489" width="1" height="25" fill="#000"/>
<rect x="115" y="501" width="5" height="4" fill="#000"/>
<rect x="116" y="502" width="3" height="2" fill="#00ff00"/>
<rect x="125" y="448" width="1" height="66" fill="#000"/>
<rect x="123" y="457" width="5" height="46" fill="#000"/>
<rect x="124" y="458" width="3" height="44" fill="#00ff00"/>
<rect x="133" y="441" width="1" height="67" fill="#000"/>
<rect x="131" y="457" width="5" height="38" fill="#000"/>
<rect x="132" y="458" width="3" height="36" fill="#ff0000"/>
<rect x="141" y="464" width="1" height="58" fill="#000"/>
<rect x="139" y="493" width="5" height="11" fill="#000"/>
<rect x="140" y="494" width="3" height="9" fill="#ff0000"/>
<rect x="149" y="453" width="1" height="55" fill="#000"/>
<rect x="147" y="456" width="5" height="47" fill="#000"/>
<rect x="148" y="457" width="3" height="45" fill="#00ff00"/>
<rect x="157" y="443" width="1" height="36" fill="#000"/>
<rect x="155" y="449" width="5" height="7" fill="#000"/>
<rect x="156" y="450" width="3" height="5" fill="#00ff00"/>
<rect x="165" y="378" width="1" height="76" fill="#000"/>
<rect x="163" y="399" width="5" height="51" fill="#000"/>
<rect x="164" y="400" width="3" height="49" fill="#00ff00"/>
<rect x="173" y="396" width="1" height="32" fill="#000"/>
<rect x="171" y="399" width="5" height="26" fill="#000"/>
<rect x="172" y="400" width="3" height="24" fill="#ff0000"/>
<rect x="181" y="328" width="1" height="121" fill="#000"/>
<rect x="179" y="347" width="5" height="79" fill="#000"/>
<rect x="180" y="348" width="3" height="77" fill="#00ff00"/>
<rect x="189" y="312" width="1" height="43" fill="#000"/>
<rect x="187" y="325" width="5" height="23" fill="#000"/>
<rect x="188" y="326" width="3" height="21" fill="#00ff00"/>
<rect x="197" y="311" width="1" height="40" fill="#000"/>
<rect x="195" y="327" width="5" height="15" fill="#000"/>
<rect x="196" y="328" width="3" height="13" fill="#ff0000"/>
<rect x="205" y="292" width="1" height="56" fill="#000"/>
<rect x="203" y="337" width="5" height="5" fill="#000"/>
<rect x="204" y="338" width="3" height="3" fill="#00ff00"/>
<rect x="213" y="274" width="1" height="86" fill="#000"/>
<rect x="211" y="278" width="5" height="59" fill="#000"/>
<rect x="212" y="279" width="3" height="57" fill="#00ff00"/>
<rect x="221" y="249" width="1" height="86" fill="#000"/>
<rect x="219" y="279" width="5" height="39" fill="#000"/>
<rect x="220" y="280" width="3" height="37" fill="#ff0000"/>
<rect x="229" y="258" width="1" height="63" fill="#000"/>
<rect x="227" y="267" width="5" height="50" fill="#000"/>
<rect x="228" y="268" width="3" height="48" fill="#00ff00"/>
<rect x="237" y="203" width="1" height="83" fill="#000"/>
<rect x="235" y="206" width="5" height="62" fill="#000"/>
<rect x="236" y="207" width="3" height="60" fill="#00ff00"/>
<rect x="245" y="202" width="1" height="43" fill="#000"/>
<rect x="243" y="206" width="5" height="27" fill="#000"/>
<rect x="244" y="207" width="3" height="25" fill="#ff0000"/>
<rect x="253" y="160" width="1" height="79" fill="#000"/>
<rect x="251" y="196" width="5" height="38" fill="#000"/>
<rect x="252" y="197" width="3" height="36" fill="#00ff00"/>
<rect x="261" y="171" width="1" height="43" fill="#000"/>
<rect x="259" y="188" width="5" height="9" fill="#000"/>
<rect x="260" y="189" width="3" height="7" fill="#00ff00"/>
<rect x="269" y="174" width="1" height="109" fill="#000"/>
<rect x="267" y="187" width="5" height="67" fill="#000"/>
<rect x="268" y="188" width="3" height="65" fill="#ff0000"/>
<rect x="277" y="224" width="1" height="31" fill="#000"/>
<rect x="275" y="238" width="5" height="15" fill="#000"/>
<rect x="276" y="239" width="3" height="13" fill="#00ff00"/>
<rect x="285" y="218" width="1" height="73" fill="#000"/>
<rect x="283" y="240" width="5" height="26" fill="#000"/>
<rect x="284" y="241" width="3" height="24" fill="#ff0000"/>
<rect x="293" y="258" width="1" height="51" fill="#000"/>
<rect x="291" y="262" width="5" height="4" fill="#000"/>
<rect x="292" y="263" width="3" height="2" fill="#00ff00"/>
<rect x="301" y="243" width="1" height="56" fill="#000"/>
<rect x="299" y="252" width="5" height="11" fill="#000"/>
<rect x="300" y="253" width="3" height="9" fill="#00ff00"/>
<rect x="309" y="202" width="1" height="67" fill="#000"/>
<rect x="307" y="218" width="5" height="35" fill="#000"/>
<rect x="308" y="219" width="3" height="33" fill="#00ff00"/>
<rect x="317" y="208" width="1" height="47" fill="#000"/>
<rect x="315" y="224" width="5" height="25" fill="#000"/>
<rect x="316" y="225" width="3" height="23" fill="#ff0000"/>
<rect x="325" y="238" width="1" height="72" fill="#000"/>
<rect x="323" y="248" width="5" height="31" fill="#000"/>
<rect x="324" y="249" width="3" height="29" fill="#ff0000"/>
<rect x="333" y="248" width="1" height="66" fill="#000"/>
<rect x="331" y="257" width="5" height="22" fill="#000"/>
<rect x="332" y="258" width="3" height="20" fill="#00ff00"/>
<rect x="341" y="240" width="1" height="87" fill="#000"/>
<rect x="339" y="257" width="5" height="28" fill="#000"/>
<rect x="340" y="258" width="3" height="26" fill="#ff0000"/>
<rect x="349" y="251" width="1" height="45" fill="#000"/>
<rect x="347" y="260" width="5" height="28" fill="#000"/>
<rect x="348" y="261" width="3" height="26" fill="#00ff00"/>
<rect x="357" y="215" width="1" height="66" fill="#000"/>
<rect x="355" y="225" width="5" height="38" fill="#000"/>
<rect x="356" y="226" width="3" height="36" fill="#00ff00"/>
<rect x="365" y="217" width="1" height="54" fill="#000"/>
<rect x="363" y="224" width="5" height="37" fill="#000"/>
<rect x="364" y="225" width="3" height="35" fill="#ff0000"/>
<rect x="373" y="218" width="1" height="57" fill="#000"/>
<rect x="371" y="229" width="5" height="31" fill="#000"/>
<rect x="372" y="230" width="3" height="29" fill="#00ff00"/>
<rect x="381" y="222" width="1" height="23" fill="#000"/>
<rect x="379" y="228" width="5" height="7" fill="#000"/>
<rect x="380" y="229" width="3" height="5" fill="#ff0000"/>
<rect x="389" y="139" width="1" height="113" fill="#000"/>
<rect x="387" y="153" width="5" height="82" fill="#000"/>
<rect x="388" y="154" width="3" height="80" fill="#00ff00"/>
<rect x="397" y="111" width="1" height="45" fill="#000"/>
<rect x="395" y="114" width="5" height="26" fill="#000"/>
<rect x="396" y="115" width="3" height="24" fill="#00ff00"/>
<rect x="405" y="53" width="1" height="84" fill="#000"/>
<rect x="403" y="114" width="5" height="6" fill="#000"/>
<rect x="404" y="115" width="3" height="4" fill="#ff0000"/>
<rect x="413" y="110" width="1" height="71" fill="#000"/>
<rect x="411" y="118" width="5" height="61" fill="#000"/>
<rect x="412" y="119" width="3" height="59" fill="#ff0000"/>
<rect x="421" y="158" width="1" height="61" fill="#000"/>
<rect x="419" y="161" width="5" height="18" fill="#000"/>
<rect x="420" y="162" width="3" height="16" fill="#00ff00"/>
<rect x="429" y="112" width="1" height="87" fill="#000"/>
<rect x="427" y="160" width="5" height="32" fill="#000"/>
<rect x="428" y="161" width="3" height="30" fill="#ff0000"/>
<rect x="437" y="152" width="1" height="34" fill="#000"/>
<rect x="435" y="172" width="5" height="6" fill="#000"/>
<rect x="436" y="173" width="3" height="4" fill="#00ff00"/>
<rect x="445" y="139" width="1" height="50" fill="#000"/>
<rect x="443" y="159" width="5" height="14" fill="#000"/>
<rect x="444" y="160" width="3" height="12" fill="#00ff00"/>
<rect x="453" y="133" width="1" height="33" fill="#000"/>
<rect x="451" y="156" width="5" height="4" fill="#000"/>
<rect x="452" y="157" width="3" height="2" fill="#00ff00"/>
<rect x="461" y="60" width="1" height="99" fill="#000"/>
<rect x="459" y="85" width="5" height="72" fill="#000"/>
<rect x="460" y="86" width="3" height="70" fill="#00ff00"/>
<rect x="469" y="39" width="1" height="52" fill="#000"/>
<rect x="467" y="80" width="5" height="6" fill="#000"/>
<rect x="468" y="81" width="3" height="4" fill="#00ff00"/>
<rect x="477" y="80" width="1" height="56" fill="#000"/>
<rect x="475" y="90" width="5" height="44" fill="#000"/>
<rect x="476" y="91" width="3" height="42" fill="#ff0000"/>
<rect x="485" y="114" width="1" height="36" fill="#000"/>
<rect x="483" y="122" width="5" height="11" fill="#000"/>
<rect x="484" y="123" width="3" height="9" fill="#00ff00"/>
<rect x="493" y="103" width="1" height="83" fill="#000"/>
<rect x="491" y="122" width="5" height="56" fill="#000"/>
<rect x="492" y="123" width="3" height="54" fill="#ff0000"/>
<rect x="501" y="152" width="1" height="58" fill="#000"/>
<rect x="499" y="155" width="5" height="23" fill="#000"/>
<rect x="500" y="156" width="3" height="21" fill="#00ff00"/>
<rect x="509" y="108" width="1" height="59" fill="#000"/>
<rect x="507" y="135" width="5" height="21" fill="#000"/>
<rect x="508" y="136" width="3" height="19" fill="#00ff00"/>
<rect x="517" y="120" width="1" height="38" fill="#000"/>
<rect x="515" y="134" width="5" height="20" fill="#000"/>
<rect x="516" y="135" width="3" height="18" fill="#00ff00"/>
<rect x="525" y="95" width="1" height="41" fill="#000"/>
<rect x="523" y="104" width="5" height="30" fill="#000"/>
<rect x="524" y="105" width="3" height="28" fill="#00ff00"/>
<rect x="533" y="77" width="1" height="117" fill="#000"/>
<rect x="531" y="105" width="5" height="68" fill="#000"/>
<rect x="532" y="106" width="3" height="66" fill="#ff0000"/>
<rect x="541" y="131" width="1" height="60" fill="#000"/>
<rect x="539" y="139" width="5" height="35" fill="#000"/>
<rect x="540" y="140" width="3" height="33" fill="#00ff00"/>
<rect x="549" y="97" width="1" height="46" fill="#000"/>
<rect x="547" y="135" width="5" height="5" fill="#000"/>
<rect x="548" y="136" width="3" height="3" fill="#00ff00"/>
<rect x="557" y="142" width="1" height="71" fill="#000"/>
<rect x="555" y="167" width="5" height="35" fill="#000"/>
<rect x="556" y="168" width="3" height="33" fill="#ff0000"/>
<rect x="565" y="192" width="1" height="71" fill="#000"/>
<rect x="563" y="201" width="5" height="39" fill="#000"/>
<rect x="564" y="202" width="3" height="37" fill="#ff0000"/>
<rect x="573" y="237" width="1" height="53" fill="#000"/>
<rect x="571" y="239" width="5" height="33" fill="#000"/>
<rect x="572" y="240" width="3" height="31" fill="#ff0000"/>
<rect x="581" y="231" width="1" height="56" fill="#000"/>
<rect x="579" y="243" width="5" height="29" fill="#000"/>
<rect x="580" y="244" width="3" height="27" fill="#00ff00"/>
<rect x="589" y="212" width="1" height="41" fill="#000"/>
<rect x="587" y="222" width="5" height="22" fill="#000"/>
<rect x="588" y="223" width="3" height="20" fill="#00ff00"/>
<rect x="597" y="224" width="1" height="59" fill="#000"/>
<rect x="595" y="241" width="5" height="39" fill="#000"/>
<rect x="596" y="242" width="3" height="37" fill="#ff0000"/>
<rect x="605" y="251" width="1" height="53" fill="#000"/>
<rect x="603" y="271" width="5" height="9" fill="#000"/>
<rect x="604" y="272" width="3" height="7" fill="#00ff00"/>
<rect x="613" y="242" width="1" height="36" fill="#000"/>
<rect x="611" y="261" width="5" height="11" fill="#000"/>
<rect x="612" y="262" width="3" height="9" fill="#00ff00"/>
<rect x="621" y="248" width="1" height="54" fill="#000"/>
<rect x="619" y="262" width="5" height="32" fill="#000"/>
<rect x="620" y="263" width="3" height="30" fill="#ff0000"/>
<rect x="629" y="274" width="1" height="48" fill="#000"/>
<rect x="627" y="277" width="5" height="18" fill="#000"/>
<rect x="628" y="278" width="3" height="16" fill="#00ff00"/>
<rect x="637" y="263" width="1" height="25" fill="#000"/>
<rect x="635" y="274" width="5" height="9" fill="#000"/>
<rect x="636" y="275" width="3" height="7" fill="#00ff00"/>
<rect x="645" y="217" width="1" height="58" fill="#000"/>
<rect x="643" y="228" width="5" height="47" fill="#000"/>
<rect x="644" y="229" width="3" height="45" fill="#00ff00"/>
<rect x="653" y="187" width="1" height="51" fill="#000"/>
<rect x="651" y="195" width="5" height="35" fill="#000"/>
<rect x="652" y="196" width="3" height="33" fill="#00ff00"/>
<rect x="661" y="180" width="1" height="36" fill="#000"/>
<rect x="659" y="195" width="5" height="21" fill="#000"/>
<rect x="660" y="196" width="3" height="19" fill="#ff0000"/>
<rect x="669" y="183" width="1" height="48" fill="#000"/>
<rect x="667" y="214" width="5" height="7" fill="#000"/>
<rect x="668" y="215" width="3" height="5" fill="#ff0000"/>
<rect x="677" y="220" width="1" height="28" fill="#000"/>
<rect x="675" y="227" width="5" height="11" fill="#000"/>
<rect x="676" y="228" width="3" height="9" fill="#ff0000"/>
<rect x="685" y="233" width="1" height="44" fill="#000"/>
<rect x="683" y="237" width="5" height="20" fill="#000"/>
<rect x="684" y="238" width="3" height="18" fill="#ff0000"/>
<rect x="693" y="230" width="1" height="51" fill="#000"/>
<rect x="691" y="242" width="5" height="15" fill="#000"/>
<rect x="692" y="243" width="3" height="13" fill="#00ff00"/>
<rect x="701" y="195" width="1" height="61" fill="#000"/>
<rect x="699" y="200" width="5" height="43" fill="#000"/>
<rect x="700" y="201" width="3" height="41" fill="#00ff00"/>
<rect x="709" y="195" width="1" height="65" fill="#000"/>
<rect x="707" y="199" width="5" height="49" fill="#000"/>
<rect x="708" y="200" width="3" height="47" fill="#ff0000"/>
<rect x="717" y="249" width="1" height="36" fill="#000"/>
<rect x="715" y="257" width="5" height="12" fill="#000"/>
<rect x="716" y="258" width="3" height="10" fill="#ff0000"/>
<rect x="725" y="238" width="1" height="35" fill="#000"/>
<rect x="723" y="259" width="5" height="9" fill="#000"/>
<rect x="724" y="260" width="3" height="7" fill="#00ff00"/>
<rect x="733" y="222" width="1" height="44" fill="#000"/>
<rect x="731" y="225" width="5" height="35" fill="#000"/>
<rect x="732" y="226" width="3" height="33" fill="#00ff00"/>
<rect x="741" y="209" width="1" height="132" fill="#000"/>
<rect x="739" y="226" width="5" height="109" fill="#000"/>
<rect x="740" y="227" width="3" height="107" fill="#ff0000"/>
<rect x="749" y="329" width="1" height="56" fill="#000"/>
<rect x="747" y="334" width="5" height="29" fill="#000"/>
<rect x="748" y="335" width="3" height="27" fill="#ff0000"/>
<rect x="757" y="329" width="1" height="43" fill="#000"/>
<rect x="755" y="333" width="5" height="30" fill="#000"/>
<rect x="756" y="334" width="3" height="28" fill="#00ff00"/>
<rect x="765" y="326" width="1" height="26" fill="#000"/>
<rect x="763" y="334" width="5" height="3" fill="#000"/>
<rect x="764" y="335" width="3" height="1" fill="#ff0000"/>
<rect x="773" y="328" width="1" height="39" fill="#000"/>
<rect x="771" y="337" width="5" height="19" fill="#000"/>
<rect x="772" y="338" width="3" height="17" fill="#ff0000"/>
<rect x="781" y="309" width="1" height="50" fill="#000"/>
<rect x="779" y="328" width="5" height="29" fill="#000"/>
<rect x="780" y="329" width="3" height="27" fill="#00ff00"/>
<rect x="789" y="307" width="1" height="62" fill="#000"/>
<rect x="787" y="329" width="5" height="33" fill="#000"/>
<rect x="788" y="330" width="3" height="31" fill="#ff0000"/>
<rect x="797" y="351" width="1" height="30" fill="#000"/>
<rect x="795" y="357" width="5" height="6" fill="#000"/>
<rect x="796" y="358" width="3" height="4" fill="#ff0000"/>
<rect x="805" y="357" width="1" height="42" fill="#000"/>
<rect x="803" y="362" width="5" height="16" fill="#000"/>
<rect x="804" y="363" width="3" height="14" fill="#ff0000"/>
<rect x="813" y="360" width="1" height="22" fill="#000"/>
<rect x="811" y="371" width="5" height="7" fill="#000"/>
<rect x="812" y="372" width="3" height="5" fill="#00ff00"/>
<rect x="821" y="331" width="1" height="47" fill="#000"/>
<rect x="819" y="339" width="5" height="33" fill="#000"/>
<rect x="820" y="340" width="3" height="31" fill="#00ff00"/>
<rect x="829" y="315" width="1" height="38" fill="#000"/>
<rect x="827" y="324" width="5" height="17" fill="#000"/>
<rect x="828" y="325" width="3" height="15" fill="#00ff00"/>
<rect x="837" y="317" width="1" height="26" fill="#000"/>
<rect x="835" y="323" width="5" height="8" fill="#000"/>
<rect x="836" y="324" width="3" height="6" fill="#00ff00"/>
<rect x="845" y="230" width="1" height="97" fill="#000"/>
<rect x="843" y="235" width="5" height="89" fill="#000"/>
<rect x="844" y="236" width="3" height="87" fill="#00ff00"/>
<rect x="853" y="193" width="1" height="52" fill="#000"/>
<rect x="851" y="236" width="5" height="5" fill="#000"/>
<rect x="852" y="237" width="3" height="3" fill="#ff0000"/>
<rect x="861" y="234" width="1" height="29" fill="#000"/>
<rect x="859" y="240" width="5" height="15" fill="#000"/>
<rect x="860" y="241" width="3" height="13" fill="#ff0000"/>
<rect x="869" y="219" width="1" height="39" fill="#000"/>
<rect x="867" y="243" width="5" height="12" fill="#000"/>
<rect x="868" y="244" width="3" height="10" fill="#00ff00"/>
<rect x="877" y="228" width="1" height="59" fill="#000"/>
<rect x="875" y="243" width="5" height="37" fill="#000"/>
<rect x="876" y="244" width="3" height="35" fill="#ff0000"/>
<rect x="885" y="262" width="1" height="31" fill="#000"/>
<rect x="883" y="275" width="5" height="5" fill="#000"/>
<rect x="884" y="276" width="3" height="3" fill="#00ff00"/>
<rect x="893" y="215" width="1" height="65" fill="#000"/>
<rect x="891" y="219" width="5" height="57" fill="#000"/>
<rect x="892" y="220" width="3" height="55" fill="#00ff00"/>
<rect x="901" y="196" width="1" height="30" fill="#000"/>
<rect x="899" y="201" width="5" height="19" fill="#000"/>
<rect x="900" y="202" width="3" height="17" fill="#00ff00"/>
<rect x="909" y="137" width="1" height="73" fill="#000"/>
<rect x="907" y="147" width="5" height="55" fill="#000"/>
<rect x="908" y="148" width="3" height="53" fill="#00ff00"/>
<rect x="917" y="126" width="1" height="45" fill="#000"/>
<rect x="915" y="151" width="5" height="18" fill="#000"/>
<rect x="916" y="152" width="3" height="16" fill="#ff0000"/>
<rect x="925" y="153" width="1" height="63" fill="#000"/>
<rect x="923" y="168" width="5" height="41" fill="#000"/>
<rect x="924" y="169" width="3" height="39" fill="#ff0000"/>
<rect x="933" y="178" width="1" height="45" fill="#000"/>
<rect x="931" y="202" width="5" height="7" fill="#000"/>
<rect x="932" y="203" width="3" height="5" fill="#00ff00"/>
<rect x="941" y="145" width="1" height="84" fill="#000"/>
<rect x="939" y="164" width="5" height="40" fill="#000"/>
<rect x="940" y="165" width="3" height="38" fill="#00ff00"/>
<rect x="949" y="140" width="1" height="61" fill="#000"/>
<rect x="947" y="165" width="5" height="4" fill="#000"/>
<rect x="948" y="166" width="3" height="2" fill="#ff0000"/>
<rect x="957" y="181" width="1" height="34" fill="#000"/>
<rect x="955" y="190" width="5" height="4" fill="#000"/>
<rect x="956" y="191" width="3" height="2" fill="#00ff00"/>
<rect x="965" y="182" width="1" height="51" fill="#000"/>
<rect x="963" y="191" width="5" height="27" fill="#000"/>
<rect x="964" y="192" width="3" height="25" fill="#ff0000"/>
<rect x="973" y="201" width="1" height="46" fill="#000"/>
<rect x="971" y="217" width="5" height="21" fill="#000"/>
<rect x="972" y="218" width="3" height="19" fill="#ff0000"/>
<rect x="981" y="224" width="1" height="29" fill="#000"/>
<rect x="979" y="237" width="5" height="14" fill="#000"/>
<rect x="980" y="238" width="3" height="12" fill="#ff0000"/>
<path fill="#000" d="M491 176h2v1h-2zM610 176h1v1h-1zM300 303h1v1h-1zM824 303h2v1h-2zM903 303h1v1h-1zM54 623h1v1h-1zM322 276h2v1h-2zM793 276h2v1h-2zM930 276h1v1h-1zM462 198h1v1h-1zM629 198h1v1h-1zM539 143h2v1h-2zM553 143h2v1h-2zM363 250h2v1h-2zM741 250h1v1h-1zM953 250h1v1h-1zM117 581h1v1h-1zM151 546h1v1h-1zM480 183h2v1h-2zM617 183h1v1h-1zM276 336h1v1h-1zM252 378h1v1h-1zM176 505h1v1h-1zM326 273h1v1h-1zM787 273h2v1h-2zM933 273h1v1h-1zM354 255h2v1h-2zM747 255h1v1h-1zM949 255h1v1h-1zM361 251h2v1h-2zM742 251h1v1h-1zM953 251h1v1h-1zM377 245h2v1h-2zM711 245h3v1h-3zM958 245h1v1h-1zM346 260h2v1h-2zM756 260h3v1h-3zM945 260h1v1h-1zM530 148h2v1h-2zM561 148h1v1h-1zM155 540h1v1h-1zM203 458h1v1h-1zM423 223h3v1h-3zM675 223h2v1h-2zM400 230h2v1h-2zM684 230h1v1h-1zM976 230h2v1h-2zM115 583h1v1h-1zM212 445h1v1h-1zM494 174h1v1h-1zM606 174h2v1h-2zM527 149h3v1h-3zM562 149h2v1h-2zM215 441h1v1h-1zM309 290h1v1h-1zM809 290h1v1h-1zM914 290h1v1h-1zM392 235h2v1h-2zM693 235h2v1h-2zM969 235h1v1h-1zM457 203h1v1h-1zM635 203h1v1h-1zM368 248h4v1h-4zM722 248h6v1h-6zM737 248h2v1h-2zM955 248h1v1h-1zM446 212h2v1h-2zM655 212h3v1h-3zM16 633h4v1h-4zM26 633h12v1h-12zM295 311h1v1h-1zM858 311h2v1h-2zM866 311h8v1h-8zM895 311h1v1h-1zM448 211h1v1h-1zM645 211h10v1h-10zM438 217h2v1h-2zM666 217h1v1h-1zM405 227h5v1h-5zM680 227h2v1h-2zM981 227h1v1h-1zM104 593h2v1h-2zM479 184h1v1h-1zM618 184h1v1h-1zM275 339h1v1h-1zM397 232h1v1h-1zM687 232h2v1h-2zM973 232h1v1h-1zM195 468h1v1h-1zM198 464h1v1h-1zM302 300h1v1h-1zM820 300h1v1h-1zM905 300h1v1h-1zM84 605h3v1h-3zM175 508h1v1h-1zM20 634h6v1h-6zM450 209h2v1h-2zM642 209h2v1h-2zM463 197h1v1h-1zM628 197h1v1h-1zM210 447h1v1h-1zM234 414h1v1h-1zM301 302h1v1h-1zM822 302h2v1h-2zM904 302h1v1h-1zM299 305h1v1h-1zM827 305h2v1h-2zM902 305h1v1h-1zM307 293h1v1h-1zM812 293h1v1h-1zM911 293h1v1h-1zM65 614h1v1h-1zM311 288h1v1h-1zM807 288h1v1h-1zM916 288h1v1h-1zM130 568h2v1h-2zM314 284h1v1h-1zM803 284h1v1h-1zM920 284h2v1h-2zM496 172h2v1h-2zM604 172h1v1h-1zM453 207h1v1h-1zM640 207h1v1h-1zM45 628h2v1h-2zM375 246h2v1h-2zM714 246h2v1h-2zM732 246h3v1h-3zM957 246h1v1h-1zM247 389h1v1h-1zM294 313h1v1h-1zM882 313h12v1h-12zM519 155h1v1h-1zM571 155h2v1h-2zM69 611h2v1h-2zM262 359h1v1h-1zM379 244h2v1h-2zM709 244h2v1h-2zM959 244h1v1h-1zM58 620h1v1h-1zM500 169h1v1h-1zM600 169h1v1h-1zM271 346h1v1h-1zM327 272h1v1h-1zM785 272h2v1h-2zM934 272h1v1h-1zM316 281h1v1h-1zM800 281h1v1h-1zM924 281h1v1h-1zM194 471h1v1h-1zM5 630h3v1h-3zM42 630h1v1h-1zM171 515h1v1h-1zM306 294h1v1h-1zM813 294h1v1h-1zM910 294h1v1h-1zM523 152h1v1h-1zM566 152h2v1h-2zM286 325h1v1h-1zM384 241h1v1h-1zM705 241h1v1h-1zM962 241h1v1h-1zM206 454h1v1h-1zM230 421h1v1h-1zM504 166h1v1h-1zM595 166h2v1h-2zM315 282h1v1h-1zM801 282h1v1h-1zM923 282h1v1h-1zM320 278h1v1h-1zM797 278h1v1h-1zM927 278h1v1h-1zM546 141h5v1h-5zM395 233h2v1h-2zM689 233h2v1h-2zM972 233h1v1h-1zM151 545h1v1h-1zM340 262h3v1h-3zM762 262h2v1h-2zM943 262h1v1h-1zM388 238h1v1h-1zM700 238h2v1h-2zM965 238h1v1h-1zM294 312h1v1h-1zM860 312h6v1h-6zM874 312h8v1h-8zM894 312h1v1h-1zM296 309h1v1h-1zM835 309h2v1h-2zM842 309h13v1h-13zM898 309h1v1h-1zM222 434h1v1h-1zM258 366h1v1h-1zM290 318h1v1h-1zM190 478h1v1h-1zM303 299h1v1h-1zM819 299h1v1h-1zM906 299h1v1h-1zM80 606h4v1h-4zM143 555h1v1h-1zM382 242h2v1h-2zM706 242h2v1h-2zM961 242h1v1h-1zM112 586h1v1h-1zM302 301h1v1h-1zM821 301h1v1h-1zM905 301h1v1h-1zM434 219h2v1h-2zM669 219h1v1h-1zM226 428h1v1h-1zM410 226h6v1h-6zM679 226h1v1h-1zM420 224h3v1h-3zM677 224h1v1h-1zM310 289h1v1h-1zM808 289h1v1h-1zM915 289h1v1h-1zM251 381h1v1h-1zM348 259h2v1h-2zM754 259h2v1h-2zM946 259h1v1h-1zM454 206h1v1h-1zM638 206h2v1h-2zM312 286h1v1h-1zM805 286h1v1h-1zM918 286h1v1h-1zM275 338h1v1h-1zM350 258h2v1h-2zM751 258h3v1h-3zM947 258h1v1h-1zM428 221h3v1h-3zM672 221h2v1h-2zM242 399h1v1h-1zM461 199h1v1h-1zM630 199h1v1h-1zM536 145h2v1h-2zM557 145h1v1h-1zM416 225h4v1h-4zM678 225h1v1h-1zM394 234h1v1h-1zM691 234h2v1h-2zM970 234h2v1h-2zM234 413h1v1h-1zM154 542h1v1h-1zM452 208h1v1h-1zM641 208h1v1h-1zM186 485h1v1h-1zM330 268h1v1h-1zM773 268h3v1h-3zM938 268h1v1h-1zM498 171h1v1h-1zM602 171h2v1h-2zM333 265h2v1h-2zM768 265h2v1h-2zM941 265h1v1h-1zM305 296h1v1h-1zM815 296h1v1h-1zM908 296h1v1h-1zM247 388h1v1h-1zM12 632h4v1h-4zM38 632h2v1h-2zM508 163h1v1h-1zM590 163h2v1h-2zM135 564h1v1h-1zM271 345h1v1h-1zM274 341h1v1h-1zM238 406h1v1h-1zM194 470h1v1h-1zM390 236h2v1h-2zM695 236h3v1h-3zM968 236h1v1h-1zM372 247h3v1h-3zM716 247h6v1h-6zM728 247h4v1h-4zM735 247h2v1h-2zM956 247h1v1h-1zM253 376h1v1h-1zM286 324h1v1h-1zM206 453h1v1h-1zM332 266h1v1h-1zM770 266h1v1h-1zM940 266h1v1h-1zM298 307h1v1h-1zM831 307h2v1h-2zM900 307h1v1h-1zM476 187h1v1h-1zM620 187h1v1h-1zM464 196h2v1h-2zM627 196h1v1h-1zM56 621h2v1h-2zM321 277h1v1h-1zM795 277h2v1h-2zM928 277h2v1h-2zM119 579h1v1h-1zM75 608h2v1h-2zM343 261h3v1h-3zM759 261h3v1h-3zM944 261h1v1h-1zM246 391h1v1h-1zM501 168h1v1h-1zM598 168h2v1h-2zM222 433h1v1h-1zM146 551h1v1h-1zM278 334h1v1h-1zM281 330h1v1h-1zM512 160h2v1h-2zM581 160h3v1h-3zM468 193h1v1h-1zM625 193h1v1h-1zM541 142h5v1h-5zM551 142h2v1h-2zM270 348h1v1h-1zM317 280h1v1h-1zM799 280h1v1h-1zM925 280h1v1h-1zM402 229h1v1h-1zM683 229h1v1h-1zM978 229h1v1h-1zM315 283h1v1h-1zM802 283h1v1h-1zM922 283h1v1h-1zM389 237h1v1h-1zM698 237h2v1h-2zM966 237h2v1h-2zM170 517h1v1h-1zM538 144h1v1h-1zM555 144h2v1h-2zM517 157h1v1h-1zM575 157h2v1h-2zM466 195h1v1h-1zM627 195h1v1h-1zM335 264h3v1h-3zM766 264h2v1h-2zM942 264h1v1h-1zM229 423h1v1h-1zM103 594h1v1h-1zM87 604h3v1h-3zM306 295h1v1h-1zM814 295h1v1h-1zM909 295h1v1h-1zM8 631h4v1h-4zM40 631h2v1h-2zM242 398h1v1h-1zM297 308h1v1h-1zM833 308h2v1h-2zM899 308h1v1h-1zM107 591h1v1h-1zM96 600h1v1h-1zM365 249h3v1h-3zM739 249h2v1h-2zM954 249h1v1h-1zM386 239h2v1h-2zM702 239h2v1h-2zM964 239h1v1h-1zM174 510h1v1h-1zM289 320h1v1h-1zM514 159h1v1h-1zM579 159h2v1h-2zM233 416h1v1h-1zM189 480h1v1h-1zM440 216h2v1h-2zM664 216h2v1h-2zM458 202h1v1h-1zM634 202h1v1h-1zM329 269h1v1h-1zM776 269h4v1h-4zM937 269h1v1h-1zM225 430h1v1h-1zM325 274h1v1h-1zM789 274h2v1h-2zM932 274h1v1h-1zM122 575h1v1h-1zM505 165h1v1h-1zM594 165h1v1h-1zM296 310h1v1h-1zM837 310h5v1h-5zM855 310h3v1h-3zM896 310h2v1h-2zM298 306h1v1h-1zM829 306h2v1h-2zM901 306h1v1h-1zM403 228h2v1h-2zM682 228h1v1h-1zM979 228h2v1h-2zM261 361h1v1h-1zM502 167h2v1h-2zM597 167h1v1h-1zM60 618h1v1h-1zM436 218h2v1h-2zM667 218h2v1h-2zM241 401h1v1h-1zM443 214h2v1h-2zM660 214h2v1h-2zM193 473h1v1h-1zM71 610h2v1h-2zM483 181h1v1h-1zM615 181h1v1h-1zM185 487h1v1h-1zM64 615h1v1h-1zM472 190h1v1h-1zM623 190h1v1h-1zM53 624h1v1h-1zM506 164h2v1h-2zM592 164h2v1h-2zM495 173h1v1h-1zM605 173h1v1h-1zM398 231h2v1h-2zM685 231h2v1h-2zM974 231h2v1h-2zM487 178h2v1h-2zM613 178h1v1h-1zM68 612h1v1h-1zM178 502h1v1h-1zM257 368h1v1h-1zM431 220h3v1h-3zM670 220h2v1h-2zM237 408h1v1h-1zM217 439h1v1h-1zM160 533h1v1h-1zM202 459h1v1h-1zM459 201h1v1h-1zM632 201h2v1h-2zM114 584h1v1h-1zM308 291h1v1h-1zM810 291h1v1h-1zM913 291h1v1h-1zM138 560h1v1h-1zM456 204h1v1h-1zM636 204h1v1h-1zM510 161h2v1h-2zM584 161h4v1h-4zM209 449h1v1h-1zM359 252h2v1h-2zM743 252h1v1h-1zM952 252h1v1h-1zM324 275h1v1h-1zM791 275h2v1h-2zM931 275h1v1h-1zM328 271h1v1h-1zM783 271h2v1h-2zM935 271h1v1h-1zM197 465h1v1h-1zM174 509h1v1h-1zM478 185h1v1h-1zM619 185h1v1h-1zM133 566h1v1h-1zM233 415h1v1h-1zM272 343h1v1h-1zM225 429h1v1h-1zM470 191h2v1h-2zM623 191h1v1h-1zM329 270h1v1h-1zM780 270h3v1h-3zM936 270h1v1h-1zM94 601h2v1h-2zM525 150h2v1h-2zM564 150h1v1h-1zM308 292h1v1h-1zM811 292h1v1h-1zM912 292h1v1h-1zM509 162h1v1h-1zM588 162h2v1h-2zM241 400h1v1h-1zM493 175h1v1h-1zM608 175h2v1h-2zM126 571h2v1h-2zM193 472h1v1h-1zM173 512h1v1h-1zM285 326h1v1h-1zM153 543h1v1h-1zM232 418h1v1h-1zM77 607h3v1h-3zM460 200h1v1h-1zM631 200h1v1h-1zM292 316h1v1h-1zM245 393h1v1h-1zM145 553h1v1h-1zM489 177h2v1h-2zM611 177h2v1h-2zM260 363h1v1h-1zM184 490h1v1h-1zM160 532h1v1h-1zM228 425h1v1h-1zM264 356h1v1h-1zM164 525h1v1h-1zM256 370h1v1h-1zM338 263h2v1h-2zM764 263h2v1h-2zM943 263h1v1h-1zM98 598h2v1h-2zM180 497h1v1h-1zM236 410h1v1h-1zM156 539h1v1h-1zM90 603h2v1h-2zM102 595h1v1h-1zM137 562h1v1h-1zM381 243h1v1h-1zM708 243h1v1h-1zM960 243h1v1h-1zM288 322h1v1h-1zM208 451h1v1h-1zM148 549h1v1h-1zM534 146h2v1h-2zM558 146h2v1h-2zM73 609h2v1h-2zM240 403h1v1h-1zM515 158h2v1h-2zM577 158h2v1h-2zM385 240h1v1h-1zM704 240h1v1h-1zM963 240h1v1h-1zM51 625h2v1h-2zM232 417h1v1h-1zM179 500h1v1h-1zM121 577h1v1h-1zM357 253h2v1h-2zM744 253h2v1h-2zM951 253h1v1h-1zM474 188h2v1h-2zM621 188h1v1h-1zM224 431h1v1h-1zM280 332h1v1h-1zM200 461h1v1h-1zM55 622h1v1h-1zM203 457h1v1h-1zM426 222h2v1h-2zM674 222h1v1h-1zM292 315h1v1h-1zM47 627h2v1h-2zM212 444h1v1h-1zM192 475h1v1h-1zM532 147h2v1h-2zM560 147h1v1h-1zM304 298h1v1h-1zM818 298h1v1h-1zM907 298h1v1h-1zM260 362h1v1h-1zM184 489h1v1h-1zM172 514h1v1h-1zM455 205h1v1h-1zM637 205h1v1h-1zM175 507h1v1h-1zM352 257h1v1h-1zM749 257h2v1h-2zM947 257h1v1h-1zM267 352h1v1h-1zM140 558h1v1h-1zM109 589h1v1h-1zM473 189h1v1h-1zM622 189h1v1h-1zM311 287h1v1h-1zM806 287h1v1h-1zM917 287h1v1h-1zM188 482h1v1h-1zM244 395h1v1h-1zM304 297h1v1h-1zM816 297h2v1h-2zM908 297h1v1h-1zM124 573h1v1h-1zM227 427h1v1h-1zM283 328h1v1h-1zM62 616h2v1h-2zM196 467h1v1h-1zM163 528h1v1h-1zM255 373h1v1h-1zM128 570h1v1h-1zM208 450h1v1h-1zM485 179h2v1h-2zM614 179h1v1h-1zM240 402h1v1h-1zM66 613h2v1h-2zM331 267h1v1h-1zM771 267h2v1h-2zM939 267h1v1h-1zM219 437h1v1h-1zM132 567h1v1h-1zM43 629h2v1h-2zM179 499h1v1h-1zM482 182h1v1h-1zM616 182h1v1h-1zM231 420h1v1h-1zM520 154h2v1h-2zM570 154h1v1h-1zM167 521h1v1h-1zM353 256h1v1h-1zM748 256h1v1h-1zM948 256h1v1h-1zM192 474h1v1h-1zM159 535h1v1h-1zM518 156h1v1h-1zM573 156h2v1h-2zM251 380h1v1h-1zM116 582h1v1h-1zM183 492h1v1h-1zM239 405h1v1h-1zM199 463h1v1h-1zM291 317h1v1h-1zM188 481h1v1h-1zM100 597h1v1h-1zM211 446h1v1h-1zM191 477h1v1h-1zM92 602h2v1h-2zM250 383h1v1h-1zM445 213h1v1h-1zM658 213h2v1h-2zM235 412h1v1h-1zM274 340h1v1h-1zM263 358h1v1h-1zM449 210h1v1h-1zM644 210h1v1h-1zM163 527h1v1h-1zM255 372h1v1h-1zM524 151h1v1h-1zM565 151h1v1h-1zM187 484h1v1h-1zM246 390h1v1h-1zM231 419h1v1h-1zM499 170h1v1h-1zM601 170h1v1h-1zM270 347h1v1h-1zM49 626h2v1h-2zM300 304h1v1h-1zM826 304h1v1h-1zM902 304h1v1h-1zM442 215h1v1h-1zM662 215h2v1h-2zM170 516h1v1h-1zM259 365h1v1h-1zM159 534h1v1h-1zM214 442h1v1h-1zM147 550h1v1h-1zM318 279h2v1h-2zM798 279h1v1h-1zM926 279h1v1h-1zM522 153h1v1h-1zM568 153h2v1h-2zM183 491h1v1h-1zM469 192h1v1h-1zM624 192h1v1h-1zM356 254h1v1h-1zM746 254h1v1h-1zM950 254h1v1h-1zM266 354h1v1h-1zM199 462h1v1h-1zM166 523h1v1h-1zM111 587h1v1h-1zM313 285h1v1h-1zM804 285h1v1h-1zM919 285h1v1h-1zM155 541h1v1h-1zM158 537h1v1h-1zM250 382h1v1h-1zM182 494h1v1h-1zM150 547h1v1h-1zM195 469h1v1h-1zM162 530h1v1h-1zM254 375h1v1h-1zM207 452h1v1h-1zM210 448h1v1h-1zM205 455h1v1h-1zM178 501h1v1h-1zM123 574h1v1h-1zM282 329h1v1h-1zM262 360h1v1h-1zM61 617h1v1h-1zM230 422h1v1h-1zM118 580h1v1h-1zM218 438h1v1h-1zM142 556h1v1h-1zM277 335h1v1h-1zM177 504h1v1h-1zM266 353h1v1h-1zM269 349h1v1h-1zM166 522h1v1h-1zM258 367h1v1h-1zM290 319h1v1h-1zM158 536h1v1h-1zM190 479h1v1h-1zM249 385h1v1h-1zM182 493h1v1h-1zM106 592h1v1h-1zM273 342h1v1h-1zM173 511h1v1h-1zM162 529h1v1h-1zM254 374h1v1h-1zM221 435h1v1h-1zM134 565h1v1h-1zM484 180h1v1h-1zM615 180h1v1h-1zM186 486h1v1h-1zM245 392h1v1h-1zM145 552h1v1h-1zM467 194h1v1h-1zM626 194h1v1h-1zM169 518h1v1h-1zM238 407h1v1h-1zM253 377h1v1h-1zM177 503h1v1h-1zM236 409h1v1h-1zM281 331h1v1h-1zM293 314h1v1h-1zM137 561h1v1h-1zM249 384h1v1h-1zM229 424h1v1h-1zM288 321h1v1h-1zM181 496h1v1h-1zM265 355h1v1h-1zM121 576h1v1h-1zM165 524h1v1h-1zM59 619h1v1h-1zM248 387h1v1h-1zM216 440h1v1h-1zM149 548h1v1h-1zM172 513h1v1h-1zM161 531h1v1h-1zM185 488h1v1h-1zM244 394h1v1h-1zM201 460h1v1h-1zM144 554h1v1h-1zM113 585h1v1h-1zM213 443h1v1h-1zM268 351h1v1h-1zM110 588h1v1h-1zM168 520h1v1h-1zM257 369h1v1h-1zM157 538h1v1h-1zM196 466h1v1h-1zM181 495h1v1h-1zM243 397h1v1h-1zM97 599h1v1h-1zM152 544h1v1h-1zM477 186h1v1h-1zM619 186h1v1h-1zM101 596h1v1h-1zM272 344h1v1h-1zM125 572h1v1h-1zM248 386h1v1h-1zM284 327h1v1h-1zM204 456h1v1h-1zM239 404h1v1h-1zM120 578h1v1h-1zM220 436h1v1h-1zM276 337h1v1h-1zM279 333h1v1h-1zM252 379h1v1h-1zM176 506h1v1h-1zM141 557h1v1h-1zM191 476h1v1h-1zM268 350h1v1h-1zM235 411h1v1h-1zM168 519h1v1h-1zM136 563h1v1h-1zM139 559h1v1h-1zM108 590h1v1h-1zM228 426h1v1h-1zM287 323h1v1h-1zM187 483h1v1h-1zM243 396h1v1h-1zM129 569h1v1h-1zM264 357h1v1h-1zM164 526h1v1h-1zM256 371h1v1h-1zM223 432h1v1h-1zM180 498h1v1h-1zM259 364h1v1h-1z"/>
<rect x="468" y="39" width="1" height="1" fill="#000"/>
<rect x="467" y="40" width="1" height="1" fill="#000"/>
<rect x="464" y="44" width="1" height="1" fill="#000"/>
<rect x="463" y="45" width="1" height="1" fill="#000"/>
<rect x="462" y="46" width="1" height="1" fill="#000"/>
<rect x="459" y="50" width="1" height="1" fill="#000"/>
<rect x="458" y="51" width="1" height="1" fill="#000"/>
<rect x="457" y="52" width="1" height="1" fill="#000"/>
<rect x="454" y="56" width="1" height="1" fill="#000"/>
<rect x="453" y="57" width="1" height="1" fill="#000"/>
<rect x="452" y="58" width="1" height="1" fill="#000"/>
<rect x="448" y="62" width="1" height="1" fill="#000"/>
<rect x="448" y="63" width="1" height="1" fill="#000"/>
<rect x="447" y="64" width="1" height="1" fill="#000"/>
<rect x="443" y="68" width="1" height="1" fill="#000"/>
<rect x="442" y="69" width="1" height="1" fill="#000"/>
<rect x="442" y="70" width="1" height="1" fill="#000"/>
<rect x="438" y="74" width="1" height="1" fill="#000"/>
<rect x="437" y="75" width="1" height="1" fill="#000"/>
<rect x="436" y="76" width="1" height="1" fill="#000"/>
<rect x="433" y="80" width="1" height="1" fill="#000"/>
<rect x="432" y="81" width="1" height="1" fill="#000"/>
<rect x="431" y="82" width="1" height="1" fill="#000"/>
<rect x="428" y="86" width="1" height="1" fill="#000"/>
<rect x="427" y="87" width="1" height="1" fill="#000"/>
<rect x="426" y="88" width="1" height="1" fill="#000"/>
<rect x="423" y="92" width="1" height="1" fill="#000"/>
<rect x="422" y="93" width="1" height="1" fill="#000"/>
<rect x="421" y="94" width="1" height="1" fill="#000"/>
<rect x="418" y="98" width="1" height="1" fill="#000"/>
<rect x="417" y="99" width="1" height="1" fill="#000"/>
<rect x="416" y="100" width="1" height="1" fill="#000"/>
<rect x="412" y="104" width="1" height="1" fill="#000"/>
<rect x="412" y="105" width="1" height="1" fill="#000"/>
<rect x="411" y="106" width="1" height="1" fill="#000"/>
<rect x="407" y="110" width="1" height="1" fill="#000"/>
<rect x="407" y="111" width="1" height="1" fill="#000"/>
<rect x="406" y="112" width="1" height="1" fill="#000"/>
<rect x="402" y="116" width="1" height="1" fill="#000"/>
<rect x="401" y="117" width="1" height="1" fill="#000"/>
<rect x="401" y="118" width="1" height="1" fill="#000"/>
<rect x="397" y="122" width="1" height="1" fill="#000"/>
<rect x="396" y="123" width="1" height="1" fill="#000"/>
<rect x="395" y="124" width="1" height="1" fill="#000"/>
<rect x="392" y="128" width="1" height="1" fill="#000"/>
<rect x="391" y="129" width="1" height="1" fill="#000"/>
<rect x="390" y="130" width="1" height="1" fill="#000"/>
<rect x="387" y="134" width="1" height="1" fill="#000"/>
<rect x="386" y="135" width="1" height="1" fill="#000"/>
<rect x="385" y="136" width="1" height="1" fill="#000"/>
<rect x="382" y="140" width="1" height="1" fill="#000"/>
<rect x="381" y="141" width="1" height="1" fill="#000"/>
<rect x="380" y="142" width="1" height="1" fill="#000"/>
<rect x="377" y="146" width="1" height="1" fill="#000"/>
<rect x="376" y="147" width="1" height="1" fill="#000"/>
<rect x="375" y="148" width="1" height="1" fill="#000"/>
<rect x="371" y="152" width="1" height="1" fill="#000"/>
<rect x="371" y="153" width="1" height="1" fill="#000"/>
<rect x="370" y="154" width="1" height="1" fill="#000"/>
<rect x="366" y="158" width="1" height="1" fill="#000"/>
<rect x="365" y="159" width="1" height="1" fill="#000"/>
<rect x="365" y="160" width="1" height="1" fill="#000"/>
<rect x="361" y="164" width="1" height="1" fill="#000"/>
<rect x="360" y="165" width="1" height="1" fill="#000"/>
<rect x="359" y="166" width="1" height="1" fill="#000"/>
<rect x="356" y="170" width="1" height="1" fill="#000"/>
<rect x="355" y="171" width="1" height="1" fill="#000"/>
<rect x="354" y="172" width="1" height="1" fill="#000"/>
<rect x="351" y="176" width="1" height="1" fill="#000"/>
<rect x="350" y="177" width="1" height="1" fill="#000"/>
<rect x="349" y="178" width="1" height="1" fill="#000"/>
<rect x="346" y="182" width="1" height="1" fill="#000"/>
<rect x="345" y="183" width="1" height="1" fill="#000"/>
<rect x="344" y="184" width="1" height="1" fill="#000"/>
<rect x="341" y="188" width="1" height="1" fill="#000"/>
<rect x="340" y="189" width="1" height="1" fill="#000"/>
<rect x="339" y="190" width="1" height="1" fill="#000"/>
<rect x="335" y="194" width="1" height="1" fill="#000"/>
<rect x="335" y="195" width="1" height="1" fill="#000"/>
<rect x="334" y="196" width="1" height="1" fill="#000"/>
<rect x="330" y="200" width="1" height="1" fill="#000"/>
<rect x="329" y="201" width="1" height="1" fill="#000"/>
<rect x="329" y="202" width="1" height="1" fill="#000"/>
<rect x="325" y="206" width="1" height="1" fill="#000"/>
<rect x="324" y="207" width="1" height="1" fill="#000"/>
<rect x="323" y="208" width="1" height="1" fill="#000"/>
<rect x="320" y="212" width="1" height="1" fill="#000"/>
<rect x="319" y="213" width="1" height="1" fill="#000"/>
<rect x="318" y="214" width="1" height="1" fill="#000"/>
<rect x="315" y="218" width="1" height="1" fill="#000"/>
<rect x="314" y="219" width="1" height="1" fill="#000"/>
<rect x="313" y="220" width="1" height="1" fill="#000"/>
<rect x="310" y="224" width="1" height="1" fill="#000"/>
<rect x="309" y="225" width="1" height="1" fill="#000"/>
<rect x="308" y="226" width="1" height="1" fill="#000"/>
<rect x="305" y="230" width="1" height="1" fill="#000"/>
<rect x="304" y="231" width="1" height="1" fill="#000"/>
<rect x="303" y="232" width="1" height="1" fill="#000"/>
<rect x="299" y="236" width="1" height="1" fill="#000"/>
<rect x="299" y="237" width="1" height="1" fill="#000"/>
<rect x="298" y="238" width="1" height="1" fill="#000"/>
<rect x="294" y="242" width="1" height="1" fill="#000"/>
<rect x="293" y="243" width="1" height="1" fill="#000"/>
<rect x="293" y="244" width="1" height="1" fill="#000"/>
<rect x="289" y="248" width="1" height="1" fill="#000"/>
<rect x="288" y="249" width="1" height="1" fill="#000"/>
<rect x="287" y="250" width="1" height="1" fill="#000"/>
<rect x="284" y="254" width="1" height="1" fill="#000"/>
<rect x="283" y="255" width="1" height="1" fill="#000"/>
<rect x="282" y="256" width="1" height="1" fill="#000"/>
<rect x="279" y="260" width="1" height="1" fill="#000"/>
<rect x="278" y="261" width="1" height="1" fill="#000"/>
<rect x="277" y="262" width="1" height="1" fill="#000"/>
<rect x="274" y="266" width="1" height="1" fill="#000"/>
<rect x="273" y="267" width="1" height="1" fill="#000"/>
<rect x="272" y="268" width="1" height="1" fill="#000"/>
<rect x="269" y="272" width="1" height="1" fill="#000"/>
<rect x="268" y="273" width="1" height="1" fill="#000"/>
<rect x="267" y="274" width="1" height="1" fill="#000"/>
<rect x="264" y="278" width="1" height="1" fill="#000"/>
<rect x="263" y="279" width="1" height="1" fill="#000"/>
<rect x="262" y="280" width="1" height="1" fill="#000"/>
<rect x="258" y="284" width="1" height="1" fill="#000"/>
<rect x="258" y="285" width="1" height="1" fill="#000"/>
<rect x="257" y="286" width="1" height="1" fill="#000"/>
<rect x="253" y="290" width="1" height="1" fill="#000"/>
<rect x="252" y="291" width="1" height="1" fill="#000"/>
<rect x="252" y="292" width="1" height="1" fill="#000"/>
<rect x="248" y="296" width="1" height="1" fill="#000"/>
<rect x="247" y="297" width="1" height="1" fill="#000"/>
<rect x="246" y="298" width="1" height="1" fill="#000"/>
<rect x="243" y="302" width="1" height="1" fill="#000"/>
<rect x="242" y="303" width="1" height="1" fill="#000"/>
<rect x="241" y="304" width="1" height="1" fill="#000"/>
<rect x="238" y="308" width="1" height="1" fill="#000"/>
<rect x="237" y="309" width="1" height="1" fill="#000"/>
<rect x="236" y="310" width="1" height="1" fill="#000"/>
<rect x="233" y="314" width="1" height="1" fill="#000"/>
<rect x="232" y="315" width="1" height="1" fill="#000"/>
<rect x="231" y="316" width="1" height="1" fill="#000"/>
<rect x="228" y="320" width="1" height="1" fill="#000"/>
<rect x="227" y="321" width="1" height="1" fill="#000"/>
<rect x="226" y="322" width="1" height="1" fill="#000"/>
<rect x="222" y="326" width="1" height="1" fill="#000"/>
<rect x="222" y="327" width="1" height="1" fill="#000"/>
<rect x="221" y="328" width="1" height="1" fill="#000"/>
<rect x="217" y="332" width="1" height="1" fill="#000"/>
<rect x="216" y="333" width="1" height="1" fill="#000"/>
<rect x="216" y="334" width="1" height="1" fill="#000"/>
<rect x="212" y="338" width="1" height="1" fill="#000"/>
<rect x="211" y="339" width="1" height="1" fill="#000"/>
<rect x="210" y="340" width="1" height="1" fill="#000"/>
<rect x="207" y="344" width="1" height="1" fill="#000"/>
<rect x="206" y="345" width="1" height="1" fill="#000"/>
<rect x="205" y="346" width="1" height="1" fill="#000"/>
<rect x="202" y="350" width="1" height="1" fill="#000"/>
<rect x="201" y="351" width="1" height="1" fill="#000"/>
<rect x="200" y="352" width="1" height="1" fill="#000"/>
<rect x="197" y="356" width="1" height="1" fill="#000"/>
<rect x="196" y="357" width="1" height="1" fill="#000"/>
<rect x="195" y="358" width="1" height="1" fill="#000"/>
<rect x="192" y="362" width="1" height="1" fill="#000"/>
<rect x="191" y="363" width="1" height="1" fill="#000"/>
<rect x="190" y="364" width="1" height="1" fill="#000"/>
<rect x="186" y="368" width="1" height="1" fill="#000"/>
<rect x="186" y="369" width="1" height="1" fill="#000"/>
<rect x="185" y="370" width="1" height="1" fill="#000"/>
<rect x="181" y="374" width="1" height="1" fill="#000"/>
<rect x="180" y="375" width="1" height="1" fill="#000"/>
<rect x="180" y="376" width="1" height="1" fill="#000"/>
<rect x="176" y="380" width="1" height="1" fill="#000"/>
<rect x="175" y="381" width="1" height="1" fill="#000"/>
<rect x="174" y="382" width="1" height="1" fill="#000"/>
<rect x="171" y="386" width="1" height="1" fill="#000"/>
<rect x="170" y="387" width="1" height="1" fill="#000"/>
<rect x="169" y="388" width="1" height="1" fill="#000"/>
<rect x="166" y="392" width="1" height="1" fill="#000"/>
<rect x="165" y="393" width="1" height="1" fill="#000"/>
<rect x="164" y="394" width="1" height="1" fill="#000"/>
<rect x="161" y="398" width="1" height="1" fill="#000"/>
<rect x="160" y="399" width="1" height="1" fill="#000"/>
<rect x="159" y="400" width="1" height="1" fill="#000"/>
<rect x="156" y="404" width="1" height="1" fill="#000"/>
<rect x="155" y="405" width="1" height="1" fill="#000"/>
<rect x="154" y="406" width="1" height="1" fill="#000"/>
<rect x="151" y="410" width="1" height="1" fill="#000"/>
<rect x="150" y="411" width="1" height="1" fill="#000"/>
<rect x="149" y="412" width="1" height="1" fill="#000"/>
<rect x="145" y="416" width="1" height="1" fill="#000"/>
<rect x="145" y="417" width="1" height="1" fill="#000"/>
<rect x="144" y="418" width="1" height="1" fill="#000"/>
<rect x="140" y="422" width="1" height="1" fill="#000"/>
<rect x="139" y="423" width="1" height="1" fill="#000"/>
<rect x="139" y="424" width="1" height="1" fill="#000"/>
<rect x="135" y="428" width="1" height="1" fill="#000"/>
<rect x="134" y="429" width="1" height="1" fill="#000"/>
<rect x="133" y="430" width="1" height="1" fill="#000"/>
<rect x="130" y="434" width="1" height="1" fill="#000"/>
<rect x="129" y="435" width="1" height="1" fill="#000"/>
<rect x="128" y="436" width="1" height="1" fill="#000"/>
<rect x="125" y="440" width="1" height="1" fill="#000"/>
<rect x="124" y="441" width="1" height="1" fill="#000"/>
<rect x="123" y="442" width="1" height="1" fill="#000"/>
<rect x="120" y="446" width="1" height="1" fill="#000"/>
<rect x="119" y="447" width="1" height="1" fill="#000"/>
<rect x="118" y="448" width="1" height="1" fill="#000"/>
<rect x="115" y="452" width="1" height="1" fill="#000"/>
<rect x="114" y="453" width="1" height="1" fill="#000"/>
<rect x="113" y="454" width="1" height="1" fill="#000"/>
<rect x="109" y="458" width="1" height="1" fill="#000"/>
<rect x="109" y="459" width="1" height="1" fill="#000"/>
<rect x="108" y="460" width="1" height="1" fill="#000"/>
<rect x="104" y="464" width="1" height="1" fill="#000"/>
<rect x="103" y="465" width="1" height="1" fill="#000"/>
<rect x="103" y="466" width="1" height="1" fill="#000"/>
<rect x="99" y="470" width="1" height="1" fill="#000"/>
<rect x="98" y="471" width="1" height="1" fill="#000"/>
<rect x="97" y="472" width="1" height="1" fill="#000"/>
<rect x="94" y="476" width="1" height="1" fill="#000"/>
<rect x="93" y="477" width="1" height="1" fill="#000"/>
<rect x="92" y="478" width="1" height="1" fill="#000"/>
<rect x="89" y="482" width="1" height="1" fill="#000"/>
<rect x="88" y="483" width="1" height="1" fill="#000"/>
<rect x="87" y="484" width="1" height="1" fill="#000"/>
<rect x="84" y="488" width="1" height="1" fill="#000"/>
<rect x="83" y="489" width="1" height="1" fill="#000"/>
<rect x="82" y="490" width="1" height="1" fill="#000"/>
<rect x="79" y="494" width="1" height="1" fill="#000"/>
<rect x="78" y="495" width="1" height="1" fill="#000"/>
<rect x="77" y="496" width="1" height="1" fill="#000"/>
<rect x="73" y="500" width="1" height="1" fill="#000"/>
<rect x="73" y="501" width="1" height="1" fill="#000"/>
<rect x="72" y="502" width="1" height="1" fill="#000"/>
<rect x="68" y="506" width="1" height="1" fill="#000"/>
<rect x="67" y="507" width="1" height="1" fill="#000"/>
<rect x="67" y="508" width="1" height="1" fill="#000"/>
<rect x="63" y="512" width="1" height="1" fill="#000"/>
<rect x="62" y="513" width="1" height="1" fill="#000"/>
<rect x="61" y="514" width="1" height="1" fill="#000"/>
<rect x="58" y="518" width="1" height="1" fill="#000"/>
<rect x="57" y="519" width="1" height="1" fill="#000"/>
<rect x="56" y="520" width="1" height="1" fill="#000"/>
<rect x="53" y="524" width="1" height="1" fill="#000"/>
<rect x="52" y="525" width="1" height="1" fill="#000"/>
<rect x="51" y="526" width="1" height="1" fill="#000"/>
<rect x="48" y="530" width="1" height="1" fill="#000"/>
<rect x="47" y="531" width="1" height="1" fill="#000"/>
<rect x="46" y="532" width="1" height="1" fill="#000"/>
<rect x="43" y="536" width="1" height="1" fill="#000"/>
<rect x="42" y="537" width="1" height="1" fill="#000"/>
<rect x="41" y="538" width="1" height="1" fill="#000"/>
<rect x="37" y="542" width="1" height="1" fill="#000"/>
<rect x="37" y="543" width="1" height="1" fill="#000"/>
<rect x="36" y="544" width="1" height="1" fill="#000"/>
<rect x="32" y="548" width="1" height="1" fill="#000"/>
<rect x="32" y="549" width="1" height="1" fill="#000"/>
<rect x="31" y="550" width="1" height="1" fill="#000"/>
<rect x="27" y="554" width="1" height="1" fill="#000"/>
<rect x="26" y="555" width="1" height="1" fill="#000"/>
<rect x="26" y="556" width="1" height="1" fill="#000"/>
<rect x="22" y="560" width="1" height="1" fill="#000"/>
<rect x="21" y="561" width="1" height="1" fill="#000"/>
<rect x="20" y="562" width="1" height="1" fill="#000"/>
<rect x="17" y="566" width="1" height="1" fill="#000"/>
<rect x="16" y="567" width="1" height="1" fill="#000"/>
<rect x="15" y="568" width="1" height="1" fill="#000"/>
<rect x="12" y="572" width="1" height="1" fill="#000"/>
<rect x="11" y="573" width="1" height="1" fill="#000"/>
<rect x="10" y="574" width="1" height="1" fill="#000"/>
<rect x="7" y="578" width="1" height="1" fill="#000"/>
<rect x="6" y="579" width="1" height="1" fill="#000"/>
<rect x="5" y="580" width="1" height="1" fill="#000"/>
<rect x="5" y="32" width="1245" height="1" fill="#ff0000"/>
<rect x="5" y="233" width="1245" height="1" fill="#ff0000"/>
<rect x="5" y="300" width="1245" height="1" fill="#ff0000"/>
<rect x="5" y="567" width="1245" height="1" fill="#ff0000"/>
<rect x="5" y="38" width="1245" height="1" fill="#4682b4"/>
<rect x="5" y="278" width="1245" height="1" fill="#4682b4"/>
<rect x="5" y="427" width="1245" height="1" fill="#4682b4"/>
<rect x="5" y="547" width="1245" height="1" fill="#4682b4"/>
<rect x="5" y="667" width="1245" height="1" fill="#4682b4"/>
</g></g>
<g shape-rendering="crispEdges" fill="#000">
<rect x="4" y="4" width="1247" height="1"/>
<rect x="4" y="706" width="1247" height="1"/>
<rect x="4" y="4" width="1" height="703"/>
<rect x="1250" y="4" width="1" height="703"/>
<rect x="1251" y="10" width="2" height="1"/>
<rect x="1251" y="43" width="2" height="1"/>
<rect x="1251" y="76" width="2" height="1"/>
<rect x="1251" y="109" width="2" height="1"/>
<rect x="1251" y="142" width="2" height="1"/>
<rect x="1251" y="175" width="2" height="1"/>
<rect x="1251" y="208" width="2" height="1"/>
<rect x="1251" y="241" width="2" height="1"/>
<rect x="1251" y="274" width="2" height="1"/>
<rect x="1251" y="307" width="2" height="1"/>
<rect x="1251" y="340" width="2" height="1"/>
<rect x="1251" y="373" width="2" height="1"/>
<rect x="1251" y="406" width="2" height="1"/>
<rect x="1251" y="439" width="2" height="1"/>
<rect x="1251" y="472" width="2" height="1"/>
<rect x="1251" y="505" width="2" height="1"/>
<rect x="1251" y="538" width="2" height="1"/>
<rect x="1251" y="571" width="2" height="1"/>
<rect x="1251" y="604" width="2" height="1"/>
<rect x="1251" y="637" width="2" height="1"/>
<rect x="1251" y="670" width="2" height="1"/>
<rect x="1251" y="703" width="2" height="1"/>
<rect x="5" y="707" width="1" height="3"/>
<rect x="69" y="707" width="1" height="3"/>
<rect x="133" y="707" width="1" height="3"/>
<rect x="197" y="707" width="1" height="3"/>
<rect x="261" y="707" width="1" height="3"/>
<rect x="325" y="707" width="1" height="3"/>
<rect x="389" y="707" width="1" height="3"/>
<rect x="453" y="707" width="1" height="3"/>
<rect x="517" y="707" width="1" height="3"/>
<rect x="581" y="707" width="1" height="3"/>
<rect x="645" y="707" width="1" height="3"/>
<rect x="709" y="707" width="1" height="3"/>
<rect x="773" y="707" width="1" height="3"/>
<rect x="837" y="707" width="1" height="3"/>
<rect x="901" y="707" width="1" height="3"/>
<rect x="965" y="707" width="1" height="3"/>
</g>
<g fill="#000" stroke="#000">
<text x="1256.5" y="14" textLength="32.4" lengthAdjust="spacingAndGlyphs">1.21330</text>
<text x="1256.5" y="47" textLength="32.4" lengthAdjust="spacingAndGlyphs">1.20840</text>
<text x="1256.5" y="80" textLength="32.4" lengthAdjust="spacingAndGlyphs">1.20340</text>
<text x="1256.5" y="113" textLength="32.4" lengthAdjust="spacingAndGlyphs">1.19850</text>
<text x="1256.5" y="146" textLength="32.4" lengthAdjust="spacingAndGlyphs">1.19360</text>
<text x="1256.5" y="179" textLength="32.4" lengthAdjust="spacingAndGlyphs">1.18860</text>
<text x="1256.5" y="212" textLength="32.4" lengthAdjust="spacingAndGlyphs">1.18370</text>
<text x="1256.5" y="245" textLength="32.4" lengthAdjust="spacingAndGlyphs">1.17880</text>
<text x="1256.5" y="278" textLength="32.4" lengthAdjust="spacingAndGlyphs">1.17380</text>
<text x="1256.5" y="311" textLength="32.4" lengthAdjust="spacingAndGlyphs">1.16890</text>
<text x="1256.5" y="344" textLength="32.4" lengthAdjust="spacingAndGlyphs">1.16390</text>
<text x="1256.5" y="377" textLength="32.4" lengthAdjust="spacingAndGlyphs">1.15900</text>
<text x="1256.5" y="410" textLength="32.4" lengthAdjust="spacingAndGlyphs">1.15410</text>
<text x="1256.5" y="443" textLength="32.4" lengthAdjust="spacingAndGlyphs">1.14910</text>
<text x="1256.5" y="476" textLength="32.4" lengthAdjust="spacingAndGlyphs">1.14420</text>
<text x="1256.5" y="509" textLength="32.4" lengthAdjust="spacingAndGlyphs">1.13930</text>
<text x="1256.5" y="542" textLength="32.4" lengthAdjust="spacingAndGlyphs">1.13430</text>
<text x="1256.5" y="575" textLength="32.4" lengthAdjust="spacingAndGlyphs">1.12940</text>
<text x="1256.5" y="608" textLength="32.4" lengthAdjust="spacingAndGlyphs">1.12450</text>
<text x="1256.5" y="641" textLength="32.4" lengthAdjust="spacingAndGlyphs">1.11950</text>
<text x="1256.5" y="674" textLength="32.4" lengthAdjust="spacingAndGlyphs">1.11460</text>
<text x="1256.5" y="707" textLength="32.4" lengthAdjust="spacingAndGlyphs">1.10960</text>
<text transform="translate(3.8,719) scale(0.912,1)">20 Jun 2017</text>
<text transform="translate(67.8,719) scale(0.912,1)">30 Jun 2017</text>
<text transform="translate(131.8,719) scale(0.902,1)">12 Jul 2017</text>
<text transform="translate(195.8,719) scale(0.902,1)">24 Jul 2017</text>
<text transform="translate(259.8,719) scale(0.939,1)">3 Aug 2017</text>
<text transform="translate(323.8,719) scale(0.942,1)">15 Aug 2017</text>
<text transform="translate(387.8,719) scale(0.942,1)">25 Aug 2017</text>
<text transform="translate(451.8,719) scale(0.908,1)">6 Sep 2017</text>
<text transform="translate(515.8,719) scale(0.900,1)">18 Sep 2017</text>
<text transform="translate(579.8,719) scale(0.901,1)">28 Sep 2017</text>
<text transform="translate(643.8,719) scale(0.925,1)">10 Oct 2017</text>
<text transform="translate(707.8,719) scale(0.923,1)">20 Oct 2017</text>
<text transform="translate(771.8,719) scale(0.943,1)">1 Nov 2017</text>
<text transform="translate(835.8,719) scale(0.930,1)">13 Nov 2017</text>
<text transform="translate(899.8,719) scale(0.940,1)">23 Nov 2017</text>
<text transform="translate(963.8,719) scale(0.898,1)">5 Dec 2017</text>
</g>
<rect x="1252" y="26" width="41" height="11" fill="#ff0000" shape-rendering="crispEdges"/>
<text x="1256.5" y="35" fill="#fff" stroke="#fff" textLength="32.4" lengthAdjust="spacingAndGlyphs">1.21000</text>
<rect x="1252" y="227" width="41" height="11" fill="#ff0000" shape-rendering="crispEdges"/>
<text x="1256.5" y="236" fill="#fff" stroke="#fff" textLength="32.4" lengthAdjust="spacingAndGlyphs">1.18000</text>
<rect x="1252" y="294" width="41" height="11" fill="#ff0000" shape-rendering="crispEdges"/>
<text x="1256.5" y="303" fill="#fff" stroke="#fff" textLength="32.4" lengthAdjust="spacingAndGlyphs">1.17000</text>
<rect x="1252" y="561" width="41" height="11" fill="#ff0000" shape-rendering="crispEdges"/>
<text x="1256.5" y="570" fill="#fff" stroke="#fff" textLength="32.4" lengthAdjust="spacingAndGlyphs">1.13000</text>
<rect x="1252" y="245" width="41" height="11" fill="#000" shape-rendering="crispEdges"/>
<text x="1256.5" y="254" fill="#fff" stroke="#fff" textLength="32.4" lengthAdjust="spacingAndGlyphs">1.17746</text>
<text x="1236.0" y="36" textLength="13.4" lengthAdjust="spacingAndGlyphs" fill="#4682b4">0.0</text>
<text x="1230.8000000000002" y="276" textLength="18.6" lengthAdjust="spacingAndGlyphs" fill="#4682b4">23.6</text>
<text x="1230.8000000000002" y="425" textLength="18.6" lengthAdjust="spacingAndGlyphs" fill="#4682b4">38.2</text>
<text x="1230.8000000000002" y="545" textLength="18.6" lengthAdjust="spacingAndGlyphs" fill="#4682b4">50.0</text>
<text x="1230.8000000000002" y="665" textLength="18.6" lengthAdjust="spacingAndGlyphs" fill="#4682b4">61.8</text>
<path shape-rendering="crispEdges" d="M8 11h7v1h-7zM9 12h5v1h-5zM10 13h3v1h-3zM11 14h1v1h-1z" fill="#000"/>
<text x="20.5" y="16" fill="#000" stroke="#000" textLength="62.8" lengthAdjust="spacingAndGlyphs">EURUSD,Daily</text>
<text x="90.8" y="16" fill="#000" stroke="#000" textLength="32.2" lengthAdjust="spacingAndGlyphs">1.17937</text>
<text x="126.9" y="16" fill="#000" stroke="#000" textLength="32.2" lengthAdjust="spacingAndGlyphs">1.18135</text>
<text x="163.0" y="16" fill="#000" stroke="#000" textLength="32.2" lengthAdjust="spacingAndGlyphs">1.17718</text>
<text x="199.1" y="16" fill="#000" stroke="#000" textLength="32.2" lengthAdjust="spacingAndGlyphs">1.17746</text>
</svg></body></html>
